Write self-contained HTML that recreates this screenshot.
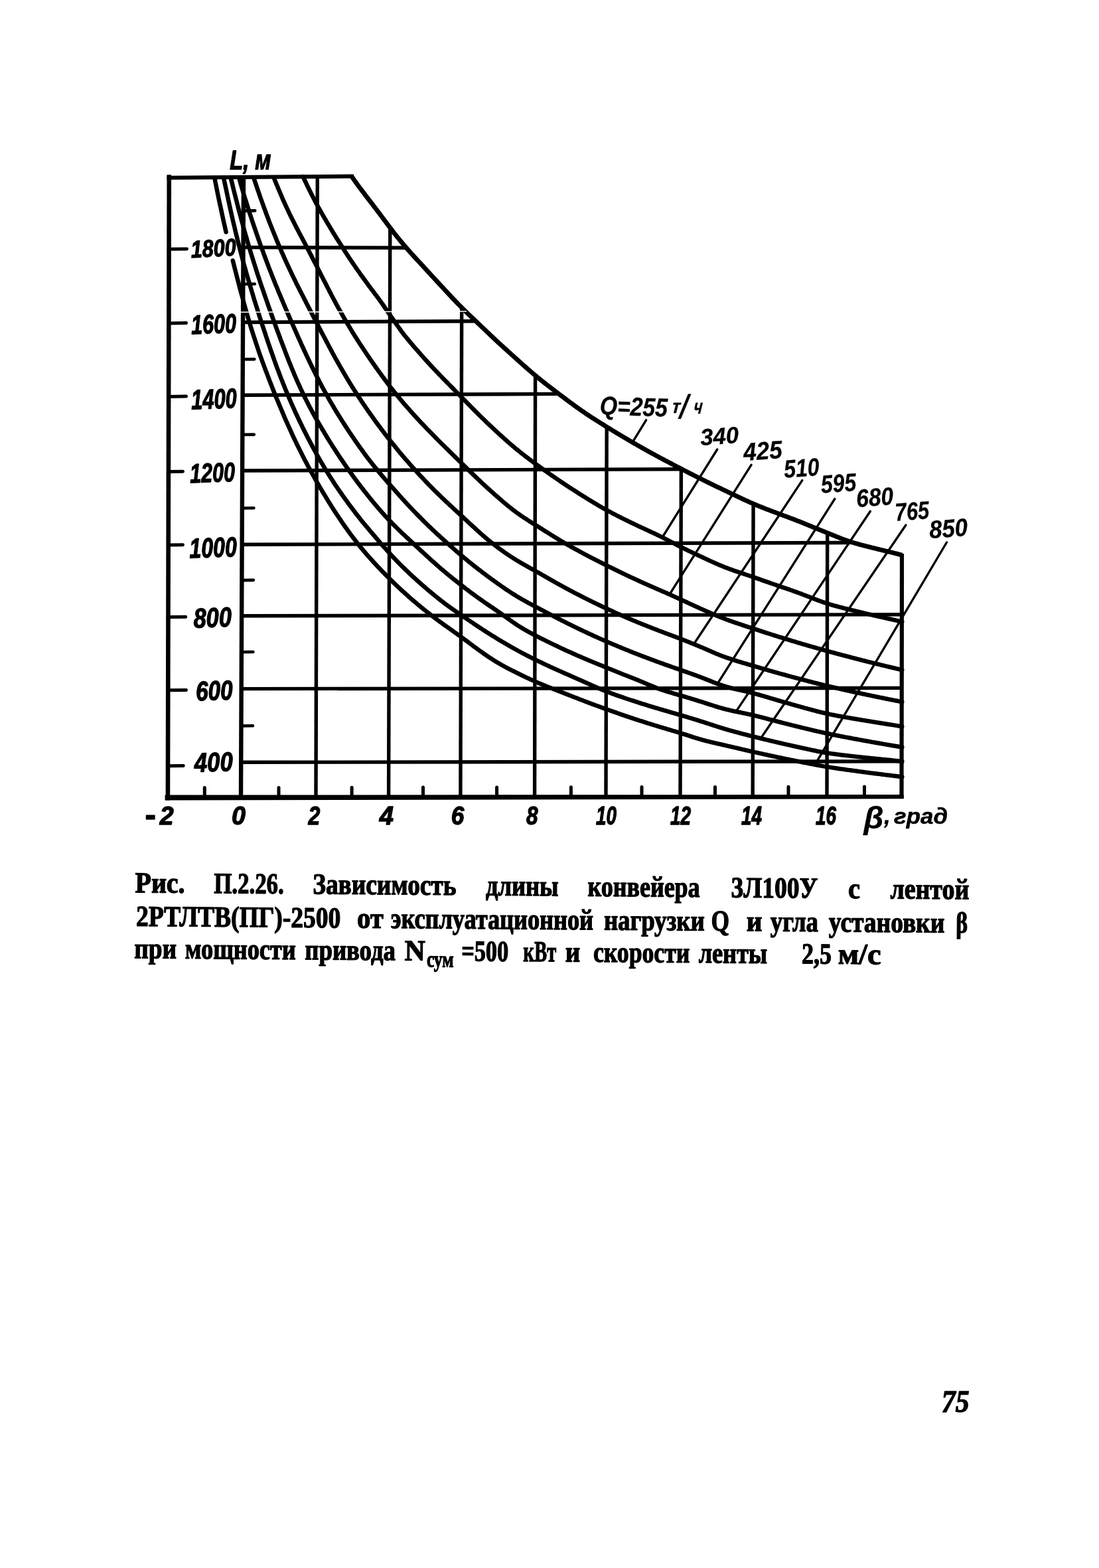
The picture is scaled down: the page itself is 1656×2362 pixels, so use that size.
<!DOCTYPE html>
<html lang="ru"><head><meta charset="utf-8"><title>Рис. П.2.26</title>
<style>
html,body{margin:0;padding:0;background:#fff;}
body{width:1656px;height:2362px;overflow:hidden;}
svg{display:block;}
text{fill:#000;stroke:#000;stroke-width:1.3px;stroke-linejoin:round;}
</style></head><body>
<svg width="1656" height="2362" viewBox="0 0 1656 2362">
<rect width="1656" height="2362" fill="#fff"/>
<g stroke="#000" fill="none">
<line x1="254.8" y1="263.3" x2="252.9" y2="1205.4" stroke-width="6.6" stroke-linecap="butt"/>
<line x1="251.4" y1="267.7" x2="533.0" y2="265.5" stroke-width="6.0" stroke-linecap="butt"/>
<polygon points="248.6,1197.6 1361.8,1197.0 1361.8,1203.2 248.6,1205.6" fill="#000" stroke="none"/>
<line x1="1359.0" y1="834.0" x2="1358.5" y2="1203.0" stroke-width="6.2" stroke-linecap="butt"/>
<line x1="366.6" y1="372.6" x2="613.3" y2="373.3" stroke-width="5.4" stroke-linecap="butt"/>
<line x1="366.1" y1="485.5" x2="717.9" y2="483.7" stroke-width="5.4" stroke-linecap="butt"/>
<line x1="365.6" y1="595.2" x2="843.1" y2="593.4" stroke-width="5.4" stroke-linecap="butt"/>
<line x1="365.1" y1="709.0" x2="1028.4" y2="706.7" stroke-width="5.4" stroke-linecap="butt"/>
<line x1="364.6" y1="820.3" x2="1286.8" y2="817.4" stroke-width="5.4" stroke-linecap="butt"/>
<line x1="364.2" y1="927.8" x2="1358.6" y2="925.7" stroke-width="5.4" stroke-linecap="butt"/>
<line x1="363.7" y1="1037.6" x2="1358.6" y2="1036.4" stroke-width="5.4" stroke-linecap="butt"/>
<line x1="363.2" y1="1148.3" x2="1358.6" y2="1146.8" stroke-width="5.4" stroke-linecap="butt"/>
<line x1="367.0" y1="266.5" x2="363.0" y2="1200.0" stroke-width="6.4" stroke-linecap="butt"/>
<line x1="478.3" y1="266.5" x2="476.0" y2="1200.0" stroke-width="5.4" stroke-linecap="butt"/>
<line x1="587.8" y1="342.1" x2="585.6" y2="1200.0" stroke-width="5.4" stroke-linecap="butt"/>
<line x1="695.7" y1="462.3" x2="693.9" y2="1200.0" stroke-width="5.4" stroke-linecap="butt"/>
<line x1="806.6" y1="564.5" x2="805.6" y2="1200.0" stroke-width="5.4" stroke-linecap="butt"/>
<line x1="914.2" y1="642.0" x2="913.0" y2="1200.0" stroke-width="5.4" stroke-linecap="butt"/>
<line x1="1026.4" y1="705.2" x2="1025.0" y2="1200.0" stroke-width="5.4" stroke-linecap="butt"/>
<line x1="1135.1" y1="757.8" x2="1134.2" y2="1200.0" stroke-width="5.4" stroke-linecap="butt"/>
<line x1="1246.7" y1="801.8" x2="1246.0" y2="1200.0" stroke-width="5.4" stroke-linecap="butt"/>
<line x1="254.4" y1="375.3" x2="281.5" y2="375.0" stroke-width="5.0" stroke-linecap="round"/>
<line x1="254.1" y1="486.9" x2="280.5" y2="486.6" stroke-width="5.0" stroke-linecap="round"/>
<line x1="253.9" y1="597.4" x2="280.5" y2="597.1" stroke-width="5.0" stroke-linecap="round"/>
<line x1="253.6" y1="710.6" x2="275.5" y2="710.3" stroke-width="5.0" stroke-linecap="round"/>
<line x1="253.4" y1="821.0" x2="275.5" y2="820.7" stroke-width="5.0" stroke-linecap="round"/>
<line x1="253.2" y1="929.5" x2="279.8" y2="929.2" stroke-width="5.0" stroke-linecap="round"/>
<line x1="252.9" y1="1039.7" x2="280.5" y2="1039.4" stroke-width="5.0" stroke-linecap="round"/>
<line x1="252.7" y1="1153.8" x2="276.3" y2="1153.5" stroke-width="5.0" stroke-linecap="round"/>
<line x1="366.8" y1="317.6" x2="384.3" y2="317.4" stroke-width="4.6" stroke-linecap="round"/>
<line x1="366.3" y1="428.0" x2="383.8" y2="427.8" stroke-width="4.6" stroke-linecap="round"/>
<line x1="365.8" y1="541.3" x2="383.3" y2="541.1" stroke-width="4.6" stroke-linecap="round"/>
<line x1="365.3" y1="654.8" x2="382.8" y2="654.6" stroke-width="4.6" stroke-linecap="round"/>
<line x1="364.9" y1="765.5" x2="382.4" y2="765.3" stroke-width="4.6" stroke-linecap="round"/>
<line x1="364.4" y1="874.1" x2="381.9" y2="873.9" stroke-width="4.6" stroke-linecap="round"/>
<line x1="363.9" y1="982.2" x2="381.4" y2="982.0" stroke-width="4.6" stroke-linecap="round"/>
<line x1="363.5" y1="1093.5" x2="381.0" y2="1093.3" stroke-width="4.6" stroke-linecap="round"/>
<line x1="308.3" y1="1201.5" x2="308.3" y2="1186.5" stroke-width="5.0" stroke-linecap="round"/>
<line x1="420.0" y1="1201.4" x2="420.0" y2="1186.4" stroke-width="5.0" stroke-linecap="round"/>
<line x1="530.1" y1="1201.2" x2="530.1" y2="1186.2" stroke-width="5.0" stroke-linecap="round"/>
<line x1="637.5" y1="1201.0" x2="637.5" y2="1186.0" stroke-width="5.0" stroke-linecap="round"/>
<line x1="748.6" y1="1200.9" x2="748.6" y2="1185.9" stroke-width="5.0" stroke-linecap="round"/>
<line x1="860.4" y1="1200.7" x2="860.4" y2="1185.7" stroke-width="5.0" stroke-linecap="round"/>
<line x1="967.0" y1="1200.6" x2="967.0" y2="1185.6" stroke-width="5.0" stroke-linecap="round"/>
<line x1="1077.5" y1="1200.4" x2="1077.5" y2="1185.4" stroke-width="5.0" stroke-linecap="round"/>
<line x1="1188.0" y1="1200.3" x2="1188.0" y2="1185.3" stroke-width="5.0" stroke-linecap="round"/>
<line x1="1302.5" y1="1200.1" x2="1302.5" y2="1185.1" stroke-width="5.0" stroke-linecap="round"/>
<path d="M530.3 266.3 L531.9 268.6 L533.4 270.8 L535.0 273.0 L536.6 275.3 L538.2 277.5 L539.8 279.7 L541.4 281.9 L543.1 284.1 L544.7 286.2 L546.3 288.4 L548.0 290.5 L549.6 292.7 L551.2 294.8 L552.8 296.9 L554.4 299.0 L556.0 301.0 L557.6 303.1 L559.2 305.2 L560.8 307.2 L562.4 309.3 L563.9 311.4 L565.5 313.4 L567.1 315.5 L568.6 317.6 L570.2 319.6 L571.8 321.7 L573.3 323.7 L574.8 325.7 L576.3 327.7 L577.8 329.7 L579.3 331.7 L580.8 333.7 L582.3 335.7 L583.7 337.7 L585.2 339.6 L586.7 341.6 L588.2 343.5 L589.6 345.5 L591.1 347.4 L592.6 349.4 L594.1 351.3 L595.6 353.2 L597.1 355.1 L598.6 357.0 L600.2 358.9 L601.7 360.8 L603.2 362.6 L604.8 364.5 L606.3 366.3 L607.9 368.2 L609.4 370.0 L611.0 371.8 L612.5 373.6 L614.1 375.4 L615.7 377.2 L617.2 378.9 L618.8 380.7 L620.4 382.5 L621.9 384.2 L623.5 385.9 L625.1 387.7 L626.7 389.4 L628.3 391.1 L629.9 392.8 L631.4 394.5 L633.0 396.2 L634.6 397.9 L636.2 399.6 L637.7 401.3 L639.3 403.0 L640.8 404.7 L642.4 406.4 L643.9 408.0 L645.4 409.7 L647.0 411.4 L648.5 413.0 L650.0 414.7 L651.5 416.4 L653.1 418.0 L654.6 419.6 L656.1 421.3 L657.6 422.9 L659.1 424.6 L660.6 426.2 L662.1 427.8 L663.6 429.5 L665.2 431.1 L666.7 432.7 L668.2 434.3 L669.7 436.0 L671.2 437.6 L672.7 439.2 L674.2 440.8 L675.7 442.5 L677.2 444.1 L678.7 445.7 L680.2 447.3 L681.7 448.9 L683.2 450.5 L684.8 452.1 L686.3 453.7 L687.8 455.2 L689.3 456.8 L690.8 458.4 L692.3 459.9 L693.9 461.5 L695.4 463.0 L696.9 464.5 L698.4 466.0 L700.0 467.5 L701.5 469.0 L703.0 470.5 L704.5 471.9 L706.0 473.4 L707.5 474.8 L709.1 476.3 L710.6 477.7 L712.1 479.2 L713.6 480.6 L715.1 482.0 L716.6 483.4 L718.0 484.8 L719.5 486.3 L721.0 487.7 L722.5 489.1 L724.0 490.5 L725.5 491.9 L726.9 493.3 L728.4 494.7 L729.9 496.1 L731.4 497.5 L732.8 498.9 L734.3 500.3 L735.8 501.7 L737.3 503.1 L738.7 504.5 L740.2 505.9 L741.7 507.3 L743.1 508.7 L744.6 510.1 L746.1 511.5 L747.6 512.9 L749.1 514.3 L750.5 515.6 L752.0 517.0 L753.5 518.4 L755.0 519.7 L756.5 521.1 L758.0 522.4 L759.5 523.8 L761.0 525.1 L762.5 526.5 L763.9 527.8 L765.4 529.2 L766.9 530.5 L768.4 531.8 L769.9 533.2 L771.3 534.5 L772.8 535.8 L774.3 537.2 L775.8 538.5 L777.3 539.8 L778.7 541.1 L780.2 542.4 L781.7 543.8 L783.1 545.1 L784.6 546.4 L786.1 547.7 L787.5 549.0 L789.0 550.3 L790.5 551.6 L791.9 552.9 L793.4 554.2 L794.8 555.5 L796.3 556.8 L797.8 558.0 L799.2 559.3 L800.7 560.6 L802.2 561.8 L803.6 563.0 L805.1 564.3 L806.5 565.5 L808.0 566.7 L809.4 567.9 L810.9 569.1 L812.4 570.3 L813.8 571.5 L815.3 572.7 L816.7 573.9 L818.2 575.0 L819.7 576.2 L821.1 577.3 L822.6 578.5 L824.0 579.6 L825.5 580.8 L827.0 581.9 L828.4 583.0 L829.9 584.1 L831.4 585.3 L832.8 586.4 L834.3 587.5 L835.8 588.6 L837.3 589.8 L838.7 590.9 L840.2 592.0 L841.7 593.1 L843.2 594.3 L844.7 595.4 L846.2 596.5 L847.7 597.6 L849.2 598.7 L850.7 599.9 L852.2 601.0 L853.7 602.1 L855.2 603.2 L856.7 604.4 L858.2 605.5 L859.7 606.6 L861.3 607.7 L862.8 608.8 L864.3 610.0 L865.8 611.1 L867.3 612.2 L868.9 613.3 L870.4 614.3 L871.9 615.4 L873.4 616.5 L874.9 617.5 L876.4 618.6 L878.0 619.7 L879.5 620.7 L881.0 621.7 L882.5 622.8 L884.0 623.8 L885.5 624.8 L887.1 625.8 L888.6 626.8 L890.1 627.8 L891.6 628.8 L893.1 629.8 L894.6 630.7 L896.1 631.7 L897.7 632.7 L899.2 633.6 L900.7 634.6 L902.2 635.5 L903.7 636.5 L905.2 637.4 L906.7 638.4 L908.2 639.3 L909.7 640.2 L911.2 641.2 L912.7 642.1 L914.2 643.0 L915.7 644.0 L917.2 644.9 L918.7 645.8 L920.2 646.7 L921.7 647.6 L923.2 648.6 L924.7 649.5 L926.2 650.4 L927.7 651.3 L929.2 652.2 L930.7 653.1 L932.2 654.0 L933.7 654.9 L935.2 655.8 L936.7 656.7 L938.2 657.6 L939.7 658.5 L941.2 659.4 L942.7 660.2 L944.2 661.1 L945.7 662.0 L947.1 662.9 L948.6 663.8 L950.1 664.6 L951.6 665.5 L953.1 666.4 L954.6 667.2 L956.1 668.1 L957.6 668.9 L959.1 669.8 L960.6 670.7 L962.1 671.5 L963.6 672.4 L965.1 673.2 L966.6 674.1 L968.1 674.9 L969.5 675.7 L971.0 676.6 L972.5 677.4 L974.0 678.3 L975.5 679.1 L977.0 679.9 L978.5 680.7 L980.0 681.6 L981.5 682.4 L983.0 683.2 L984.5 684.0 L986.0 684.8 L987.5 685.7 L989.0 686.5 L990.5 687.3 L991.9 688.1 L993.4 688.9 L994.9 689.7 L996.4 690.5 L997.9 691.3 L999.4 692.1 L1000.9 692.9 L1002.4 693.7 L1003.9 694.5 L1005.4 695.2 L1006.9 696.0 L1008.4 696.8 L1009.9 697.6 L1011.4 698.4 L1012.9 699.2 L1014.4 700.0 L1015.8 700.7 L1017.3 701.5 L1018.8 702.3 L1020.3 703.1 L1021.8 703.8 L1023.3 704.6 L1024.8 705.4 L1026.3 706.2 L1027.8 706.9 L1029.3 707.7 L1030.8 708.5 L1032.3 709.3 L1033.8 710.0 L1035.3 710.8 L1036.8 711.6 L1038.3 712.4 L1039.8 713.1 L1041.3 713.9 L1042.8 714.7 L1044.4 715.4 L1045.9 716.2 L1047.4 717.0 L1048.9 717.7 L1050.4 718.5 L1051.9 719.2 L1053.4 720.0 L1054.9 720.7 L1056.4 721.5 L1057.9 722.2 L1059.4 723.0 L1060.9 723.7 L1062.4 724.5 L1063.9 725.2 L1065.4 726.0 L1066.9 726.7 L1068.4 727.4 L1069.9 728.2 L1071.4 728.9 L1072.9 729.6 L1074.4 730.4 L1075.9 731.1 L1077.4 731.8 L1078.9 732.5 L1080.4 733.3 L1081.9 734.0 L1083.5 734.7 L1085.0 735.4 L1086.5 736.1 L1088.0 736.9 L1089.5 737.6 L1091.0 738.3 L1092.5 739.0 L1094.0 739.7 L1095.5 740.4 L1097.0 741.1 L1098.5 741.9 L1100.0 742.6 L1101.4 743.3 L1102.9 744.0 L1104.4 744.7 L1105.9 745.4 L1107.4 746.1 L1108.9 746.8 L1110.4 747.5 L1111.9 748.3 L1113.4 749.0 L1114.9 749.7 L1116.4 750.4 L1117.9 751.1 L1119.3 751.8 L1120.8 752.5 L1122.3 753.2 L1123.8 753.9 L1125.3 754.5 L1126.8 755.2 L1128.3 755.9 L1129.8 756.6 L1131.3 757.2 L1132.8 757.9 L1134.3 758.5 L1135.8 759.2 L1137.4 759.8 L1138.9 760.5 L1140.4 761.1 L1141.9 761.7 L1143.4 762.4 L1144.9 763.0 L1146.5 763.6 L1148.0 764.2 L1149.5 764.8 L1151.0 765.4 L1152.6 766.0 L1154.1 766.6 L1155.6 767.2 L1157.2 767.8 L1158.7 768.3 L1160.2 768.9 L1161.7 769.5 L1163.3 770.1 L1164.8 770.7 L1166.3 771.2 L1167.9 771.8 L1169.4 772.4 L1170.9 773.0 L1172.5 773.5 L1174.0 774.1 L1175.5 774.7 L1177.0 775.2 L1178.6 775.8 L1180.1 776.4 L1181.6 776.9 L1183.2 777.5 L1184.7 778.1 L1186.2 778.6 L1187.7 779.2 L1189.3 779.8 L1190.8 780.4 L1192.3 780.9 L1193.8 781.5 L1195.4 782.1 L1196.9 782.7 L1198.4 783.3 L1199.9 783.9 L1201.4 784.5 L1202.9 785.1 L1204.4 785.6 L1206.0 786.2 L1207.5 786.8 L1209.0 787.4 L1210.5 788.0 L1212.0 788.7 L1213.5 789.3 L1215.0 789.9 L1216.5 790.5 L1218.0 791.1 L1219.5 791.7 L1221.0 792.3 L1222.5 792.9 L1224.0 793.6 L1225.5 794.2 L1227.0 794.8 L1228.5 795.4 L1230.0 796.0 L1231.5 796.6 L1233.0 797.2 L1234.5 797.8 L1235.9 798.4 L1237.4 799.0 L1238.9 799.6 L1240.4 800.2 L1241.9 800.8 L1243.3 801.4 L1244.8 802.0 L1246.3 802.6 L1247.7 803.2 L1249.2 803.8 L1250.7 804.4 L1252.1 805.0 L1253.6 805.5 L1255.0 806.1 L1256.5 806.7 L1257.9 807.3 L1259.4 807.9 L1260.8 808.5 L1262.3 809.1 L1263.7 809.6 L1265.2 810.2 L1266.6 810.8 L1268.1 811.3 L1269.5 811.9 L1271.0 812.4 L1272.5 813.0 L1273.9 813.5 L1275.4 814.0 L1276.9 814.5 L1278.4 815.0 L1279.9 815.5 L1281.4 816.0 L1282.9 816.5 L1284.4 817.0 L1285.9 817.5 L1287.5 817.9 L1289.0 818.4 L1290.5 818.8 L1292.1 819.3 L1293.6 819.7 L1295.1 820.1 L1296.7 820.6 L1298.3 821.0 L1299.8 821.4 L1301.4 821.8 L1303.0 822.2 L1304.5 822.6 L1306.1 823.0 L1307.7 823.4 L1309.2 823.8 L1310.8 824.2 L1312.4 824.6 L1313.9 825.0 L1315.5 825.4 L1317.1 825.7 L1318.6 826.1 L1320.2 826.5 L1321.8 826.9 L1323.3 827.3 L1324.9 827.7 L1326.5 828.1 L1328.0 828.4 L1329.6 828.8 L1331.2 829.2 L1332.7 829.6 L1334.3 830.0 L1335.9 830.3 L1337.5 830.7 L1339.0 831.1 L1340.6 831.5 L1342.2 831.9 L1343.7 832.2 L1345.3 832.6 L1346.8 833.0 L1348.4 833.4 L1349.9 833.8 L1351.5 834.2 L1353.0 834.6 L1354.6 835.0 L1356.1 835.4 L1357.7 835.8 L1359.2 836.2" stroke-width="6.9" stroke-linecap="butt" stroke-linejoin="round" fill="none"/>
<path d="M456.5 266.1 L458.1 269.3 L459.6 272.5 L461.1 275.6 L462.6 278.8 L464.1 281.9 L465.6 285.0 L467.1 288.1 L468.7 291.2 L470.2 294.3 L471.8 297.3 L473.4 300.3 L475.0 303.4 L476.6 306.4 L478.2 309.3 L479.8 312.3 L481.5 315.2 L483.1 318.1 L484.7 321.0 L486.3 323.8 L487.9 326.6 L489.5 329.3 L491.1 332.0 L492.7 334.8 L494.3 337.5 L495.9 340.2 L497.5 342.9 L499.1 345.5 L500.7 348.2 L502.4 350.9 L504.0 353.5 L505.6 356.1 L507.2 358.7 L508.8 361.3 L510.4 363.8 L512.0 366.3 L513.6 368.8 L515.2 371.3 L516.8 373.8 L518.4 376.3 L519.9 378.7 L521.5 381.1 L523.0 383.5 L524.6 385.9 L526.1 388.3 L527.7 390.6 L529.3 393.0 L530.9 395.3 L532.5 397.7 L534.1 400.0 L535.7 402.3 L537.3 404.7 L538.9 407.0 L540.5 409.2 L542.1 411.5 L543.7 413.8 L545.3 416.0 L547.0 418.3 L548.6 420.5 L550.2 422.7 L551.8 424.9 L553.4 427.1 L555.0 429.3 L556.6 431.5 L558.2 433.6 L559.8 435.8 L561.4 437.9 L563.0 440.0 L564.6 442.2 L566.2 444.3 L567.9 446.4 L569.4 448.5 L571.0 450.6 L572.5 452.7 L574.0 454.8 L575.5 456.9 L577.0 459.0 L578.4 461.1 L579.9 463.3 L581.3 465.4 L582.8 467.4 L584.2 469.5 L585.6 471.6 L587.1 473.7 L588.5 475.7 L589.9 477.8 L591.4 479.8 L592.8 481.9 L594.2 483.9 L595.6 485.9 L597.0 488.0 L598.5 490.0 L599.9 492.0 L601.3 494.0 L602.7 495.9 L604.1 497.9 L605.5 499.9 L607.0 501.8 L608.4 503.7 L609.9 505.6 L611.5 507.5 L613.0 509.4 L614.5 511.2 L616.1 513.0 L617.6 514.9 L619.1 516.7 L620.7 518.5 L622.2 520.3 L623.7 522.1 L625.3 523.9 L626.8 525.6 L628.4 527.4 L629.9 529.2 L631.4 530.9 L633.0 532.7 L634.5 534.4 L636.0 536.1 L637.6 537.9 L639.1 539.6 L640.6 541.3 L642.2 543.0 L643.7 544.7 L645.2 546.3 L646.8 548.0 L648.3 549.7 L649.8 551.3 L651.4 553.0 L652.9 554.6 L654.5 556.3 L656.0 557.9 L657.5 559.5 L659.1 561.1 L660.6 562.8 L662.1 564.4 L663.7 566.0 L665.2 567.5 L666.7 569.1 L668.3 570.7 L669.8 572.3 L671.3 573.8 L672.9 575.4 L674.4 576.9 L675.9 578.5 L677.5 580.0 L679.0 581.6 L680.5 583.1 L682.0 584.6 L683.5 586.1 L685.0 587.7 L686.5 589.2 L688.0 590.7 L689.5 592.2 L691.0 593.7 L692.5 595.2 L694.0 596.7 L695.5 598.2 L696.9 599.7 L698.4 601.2 L699.9 602.7 L701.3 604.2 L702.8 605.7 L704.2 607.2 L705.7 608.7 L707.1 610.1 L708.6 611.6 L710.0 613.1 L711.5 614.6 L712.9 616.0 L714.3 617.5 L715.8 618.9 L717.2 620.4 L718.7 621.8 L720.1 623.2 L721.5 624.7 L723.0 626.1 L724.4 627.5 L725.8 628.9 L727.3 630.3 L728.7 631.7 L730.2 633.1 L731.6 634.5 L733.0 635.9 L734.5 637.3 L735.9 638.6 L737.4 640.0 L738.8 641.4 L740.2 642.7 L741.7 644.1 L743.1 645.4 L744.5 646.8 L746.0 648.1 L747.4 649.5 L748.9 650.8 L750.3 652.1 L751.7 653.4 L753.2 654.7 L754.6 656.0 L756.1 657.3 L757.5 658.6 L758.9 659.9 L760.4 661.2 L761.8 662.5 L763.3 663.8 L764.7 665.1 L766.2 666.3 L767.6 667.6 L769.0 668.8 L770.5 670.1 L771.9 671.3 L773.4 672.6 L774.9 673.8 L776.3 675.0 L777.8 676.2 L779.2 677.4 L780.7 678.6 L782.2 679.8 L783.7 681.0 L785.1 682.2 L786.6 683.3 L788.1 684.5 L789.6 685.6 L791.0 686.8 L792.5 687.9 L794.0 689.1 L795.5 690.2 L797.0 691.3 L798.5 692.4 L800.0 693.6 L801.5 694.7 L803.0 695.8 L804.5 696.9 L806.0 698.0 L807.5 699.1 L809.0 700.2 L810.5 701.3 L812.0 702.3 L813.5 703.4 L815.0 704.5 L816.5 705.6 L818.0 706.7 L819.5 707.7 L821.0 708.8 L822.5 709.9 L824.0 710.9 L825.5 712.0 L827.0 713.1 L828.5 714.1 L830.0 715.2 L831.5 716.2 L833.0 717.3 L834.5 718.3 L836.0 719.3 L837.5 720.4 L839.0 721.4 L840.5 722.4 L842.0 723.4 L843.5 724.5 L845.0 725.5 L846.5 726.5 L848.0 727.5 L849.5 728.5 L851.0 729.5 L852.5 730.5 L854.0 731.5 L855.5 732.5 L857.0 733.5 L858.5 734.5 L860.0 735.4 L861.6 736.4 L863.1 737.4 L864.6 738.4 L866.1 739.3 L867.6 740.3 L869.1 741.3 L870.6 742.2 L872.1 743.2 L873.6 744.1 L875.1 745.1 L876.6 746.0 L878.1 747.0 L879.6 747.9 L881.1 748.8 L882.6 749.8 L884.1 750.7 L885.6 751.6 L887.1 752.6 L888.6 753.5 L890.1 754.4 L891.6 755.3 L893.1 756.2 L894.6 757.1 L896.1 758.0 L897.6 758.9 L899.1 759.8 L900.6 760.7 L902.1 761.6 L903.6 762.5 L905.1 763.4 L906.6 764.2 L908.1 765.1 L909.6 765.9 L911.1 766.8 L912.6 767.6 L914.1 768.5 L915.7 769.3 L917.2 770.1 L918.7 770.9 L920.2 771.7 L921.7 772.5 L923.2 773.3 L924.7 774.1 L926.2 774.9 L927.8 775.7 L929.3 776.5 L930.8 777.3 L932.3 778.0 L933.8 778.8 L935.3 779.5 L936.9 780.3 L938.4 781.1 L939.9 781.8 L941.4 782.6 L942.9 783.3 L944.4 784.0 L946.0 784.8 L947.5 785.5 L949.0 786.3 L950.5 787.0 L952.0 787.7 L953.5 788.4 L955.1 789.2 L956.6 789.9 L958.1 790.6 L959.6 791.3 L961.1 792.1 L962.6 792.8 L964.2 793.5 L965.7 794.2 L967.2 794.9 L968.7 795.6 L970.2 796.3 L971.7 797.0 L973.3 797.7 L974.8 798.4 L976.3 799.1 L977.8 799.8 L979.3 800.5 L980.8 801.2 L982.3 801.9 L983.9 802.6 L985.4 803.3 L986.9 804.0 L988.4 804.7 L989.9 805.5 L991.4 806.2 L992.9 806.9 L994.4 807.7 L995.9 808.4 L997.4 809.2 L998.9 809.9 L1000.4 810.7 L1001.9 811.4 L1003.4 812.2 L1004.8 813.0 L1006.3 813.7 L1007.8 814.5 L1009.3 815.3 L1010.8 816.1 L1012.3 816.9 L1013.8 817.6 L1015.2 818.4 L1016.7 819.2 L1018.2 820.0 L1019.7 820.8 L1021.2 821.5 L1022.7 822.3 L1024.2 823.1 L1025.6 823.8 L1027.1 824.6 L1028.6 825.3 L1030.1 826.0 L1031.6 826.8 L1033.1 827.5 L1034.6 828.2 L1036.1 829.0 L1037.6 829.7 L1039.1 830.4 L1040.6 831.1 L1042.1 831.8 L1043.5 832.5 L1045.0 833.2 L1046.5 833.9 L1048.0 834.6 L1049.5 835.3 L1051.0 836.0 L1052.5 836.7 L1054.0 837.4 L1055.5 838.1 L1057.0 838.8 L1058.5 839.5 L1060.0 840.2 L1061.5 840.9 L1063.0 841.6 L1064.5 842.3 L1066.0 843.0 L1067.5 843.7 L1069.0 844.4 L1070.5 845.1 L1072.0 845.8 L1073.5 846.4 L1075.0 847.1 L1076.5 847.8 L1078.0 848.5 L1079.5 849.1 L1081.0 849.8 L1082.5 850.4 L1084.0 851.1 L1085.6 851.7 L1087.1 852.3 L1088.6 852.9 L1090.1 853.6 L1091.6 854.2 L1093.1 854.8 L1094.6 855.3 L1096.2 855.9 L1097.7 856.5 L1099.2 857.1 L1100.7 857.6 L1102.3 858.2 L1103.8 858.7 L1105.3 859.3 L1106.8 859.8 L1108.4 860.3 L1109.9 860.8 L1111.4 861.4 L1113.0 861.9 L1114.5 862.4 L1116.0 862.9 L1117.6 863.4 L1119.1 863.9 L1120.6 864.4 L1122.1 864.9 L1123.7 865.5 L1125.2 866.0 L1126.7 866.5 L1128.2 867.0 L1129.7 867.5 L1131.2 868.0 L1132.8 868.5 L1134.3 869.1 L1135.8 869.6 L1137.3 870.1 L1138.8 870.6 L1140.3 871.1 L1141.8 871.7 L1143.3 872.2 L1144.8 872.7 L1146.3 873.2 L1147.8 873.8 L1149.3 874.3 L1150.8 874.8 L1152.3 875.3 L1153.8 875.9 L1155.3 876.4 L1156.8 876.9 L1158.3 877.4 L1159.7 877.9 L1161.2 878.5 L1162.7 879.0 L1164.2 879.5 L1165.7 880.0 L1167.2 880.5 L1168.7 881.0 L1170.2 881.6 L1171.7 882.1 L1173.2 882.6 L1174.7 883.1 L1176.1 883.6 L1177.6 884.1 L1179.1 884.6 L1180.6 885.1 L1182.1 885.6 L1183.6 886.1 L1185.1 886.6 L1186.6 887.1 L1188.1 887.6 L1189.6 888.1 L1191.1 888.7 L1192.5 889.2 L1194.0 889.7 L1195.5 890.3 L1197.0 890.8 L1198.5 891.3 L1200.0 891.9 L1201.5 892.4 L1203.0 893.0 L1204.5 893.5 L1206.0 894.1 L1207.5 894.6 L1208.9 895.2 L1210.4 895.8 L1211.9 896.3 L1213.4 896.9 L1214.9 897.5 L1216.4 898.1 L1217.9 898.6 L1219.4 899.2 L1220.9 899.8 L1222.4 900.4 L1223.8 901.0 L1225.3 901.6 L1226.8 902.2 L1228.3 902.7 L1229.8 903.3 L1231.3 903.9 L1232.8 904.4 L1234.3 905.0 L1235.8 905.5 L1237.3 906.0 L1238.8 906.6 L1240.3 907.1 L1241.8 907.6 L1243.3 908.1 L1244.8 908.6 L1246.3 909.1 L1247.8 909.6 L1249.3 910.0 L1250.9 910.5 L1252.4 911.0 L1253.9 911.4 L1255.4 911.9 L1256.9 912.3 L1258.5 912.7 L1260.0 913.1 L1261.5 913.5 L1263.0 913.9 L1264.6 914.3 L1266.1 914.7 L1267.6 915.1 L1269.1 915.5 L1270.7 915.9 L1272.2 916.3 L1273.7 916.7 L1275.3 917.0 L1276.8 917.4 L1278.3 917.8 L1279.9 918.2 L1281.4 918.5 L1282.9 918.9 L1284.4 919.3 L1286.0 919.7 L1287.5 920.0 L1289.0 920.4 L1290.6 920.8 L1292.1 921.2 L1293.6 921.5 L1295.2 921.9 L1296.7 922.3 L1298.2 922.6 L1299.7 923.0 L1301.3 923.4 L1302.8 923.7 L1304.3 924.1 L1305.9 924.4 L1307.4 924.8 L1308.9 925.2 L1310.5 925.5 L1312.0 925.9 L1313.5 926.2 L1315.0 926.6 L1316.6 927.0 L1318.1 927.3 L1319.6 927.7 L1321.2 928.0 L1322.7 928.4 L1324.2 928.7 L1325.7 929.1 L1327.3 929.4 L1328.8 929.8 L1330.3 930.1 L1331.9 930.4 L1333.4 930.8 L1334.9 931.1 L1336.5 931.5 L1338.0 931.8 L1339.5 932.2 L1341.0 932.5 L1342.6 932.8 L1344.1 933.2 L1345.6 933.5 L1347.2 933.9 L1348.7 934.2 L1350.2 934.6 L1351.7 934.9 L1353.2 935.3 L1354.8 935.6 L1356.3 936.0 L1357.8 936.3 L1359.3 936.7" stroke-width="6.5" stroke-linecap="round" stroke-linejoin="round" fill="none"/>
<path d="M413.2 269.0 L414.7 272.9 L416.3 276.7 L417.9 280.6 L419.4 284.3 L421.0 288.1 L422.6 291.8 L424.2 295.4 L425.7 299.1 L427.3 302.6 L428.9 306.2 L430.6 309.8 L432.2 313.3 L433.9 316.8 L435.5 320.3 L437.2 323.8 L438.9 327.2 L440.6 330.6 L442.3 334.0 L444.0 337.4 L445.7 340.7 L447.4 344.0 L449.1 347.2 L450.7 350.4 L452.4 353.6 L454.1 356.7 L455.7 359.8 L457.4 362.9 L459.0 366.0 L460.6 369.1 L462.2 372.2 L463.9 375.2 L465.5 378.3 L467.1 381.4 L468.7 384.4 L470.2 387.5 L471.8 390.5 L473.3 393.5 L474.9 396.4 L476.4 399.3 L477.9 402.3 L479.3 405.1 L480.8 408.0 L482.2 410.8 L483.7 413.7 L485.1 416.5 L486.6 419.4 L488.0 422.2 L489.5 425.0 L490.9 427.8 L492.4 430.7 L493.8 433.5 L495.3 436.3 L496.7 439.1 L498.2 441.9 L499.6 444.7 L501.1 447.5 L502.5 450.2 L504.0 453.0 L505.5 455.7 L506.9 458.4 L508.4 461.1 L509.8 463.7 L511.3 466.4 L512.8 469.0 L514.3 471.6 L515.7 474.2 L517.2 476.8 L518.7 479.4 L520.1 481.9 L521.6 484.4 L523.1 487.0 L524.6 489.4 L526.1 491.9 L527.6 494.4 L529.0 496.8 L530.5 499.3 L532.0 501.7 L533.5 504.1 L535.0 506.5 L536.5 508.8 L538.0 511.2 L539.5 513.5 L541.0 515.9 L542.5 518.2 L544.0 520.5 L545.5 522.7 L547.0 525.0 L548.5 527.3 L550.0 529.5 L551.5 531.8 L553.0 534.0 L554.5 536.2 L556.0 538.4 L557.5 540.6 L559.0 542.8 L560.5 544.9 L562.0 547.1 L563.5 549.2 L565.0 551.4 L566.5 553.5 L568.0 555.6 L569.5 557.7 L571.0 559.8 L572.5 561.8 L574.0 563.9 L575.5 566.0 L577.0 568.0 L578.5 570.0 L580.0 572.0 L581.5 574.1 L583.0 576.0 L584.5 578.0 L586.0 580.0 L587.5 582.0 L589.0 583.9 L590.5 585.8 L592.1 587.8 L593.6 589.7 L595.1 591.6 L596.6 593.5 L598.1 595.3 L599.7 597.2 L601.2 599.0 L602.7 600.9 L604.2 602.7 L605.8 604.5 L607.3 606.3 L608.8 608.1 L610.4 609.9 L611.9 611.7 L613.4 613.4 L615.0 615.2 L616.5 616.9 L618.1 618.7 L619.6 620.4 L621.1 622.1 L622.7 623.8 L624.2 625.5 L625.8 627.2 L627.3 628.8 L628.8 630.5 L630.4 632.2 L631.9 633.8 L633.4 635.5 L635.0 637.1 L636.5 638.7 L638.0 640.3 L639.6 641.9 L641.1 643.5 L642.6 645.1 L644.1 646.7 L645.7 648.3 L647.2 649.8 L648.7 651.4 L650.3 652.9 L651.8 654.5 L653.3 656.0 L654.8 657.6 L656.3 659.1 L657.8 660.6 L659.4 662.2 L660.9 663.7 L662.4 665.2 L663.9 666.7 L665.4 668.2 L666.9 669.7 L668.4 671.2 L670.0 672.7 L671.5 674.2 L673.0 675.7 L674.5 677.1 L676.0 678.6 L677.5 680.1 L679.0 681.6 L680.5 683.0 L682.0 684.5 L683.5 686.0 L684.9 687.4 L686.4 688.9 L687.9 690.3 L689.4 691.8 L690.8 693.2 L692.3 694.7 L693.8 696.1 L695.2 697.6 L696.7 699.0 L698.2 700.4 L699.6 701.8 L701.1 703.2 L702.5 704.7 L704.0 706.1 L705.4 707.5 L706.9 708.9 L708.3 710.3 L709.7 711.7 L711.2 713.1 L712.6 714.5 L714.0 715.8 L715.5 717.2 L716.9 718.6 L718.3 720.0 L719.8 721.3 L721.2 722.7 L722.6 724.0 L724.0 725.4 L725.5 726.7 L726.9 728.1 L728.3 729.4 L729.8 730.7 L731.2 732.0 L732.6 733.4 L734.1 734.7 L735.5 736.0 L736.9 737.3 L738.4 738.6 L739.8 739.9 L741.2 741.1 L742.7 742.4 L744.1 743.7 L745.5 745.0 L747.0 746.2 L748.4 747.5 L749.9 748.7 L751.3 750.0 L752.7 751.2 L754.2 752.5 L755.6 753.7 L757.0 754.9 L758.5 756.2 L759.9 757.4 L761.3 758.6 L762.8 759.8 L764.2 761.0 L765.7 762.2 L767.1 763.4 L768.6 764.5 L770.0 765.7 L771.5 766.8 L772.9 768.0 L774.4 769.1 L775.9 770.2 L777.3 771.3 L778.8 772.4 L780.3 773.4 L781.8 774.5 L783.3 775.5 L784.8 776.6 L786.3 777.6 L787.8 778.6 L789.3 779.6 L790.8 780.6 L792.3 781.6 L793.9 782.6 L795.4 783.6 L796.9 784.6 L798.4 785.6 L800.0 786.5 L801.5 787.5 L803.1 788.5 L804.6 789.4 L806.2 790.4 L807.7 791.4 L809.3 792.3 L810.8 793.3 L812.4 794.3 L813.9 795.3 L815.5 796.2 L817.0 797.2 L818.6 798.2 L820.1 799.2 L821.7 800.2 L823.2 801.1 L824.8 802.1 L826.3 803.1 L827.9 804.1 L829.5 805.1 L831.0 806.1 L832.6 807.0 L834.1 808.0 L835.7 808.9 L837.2 809.9 L838.8 810.8 L840.3 811.8 L841.9 812.7 L843.4 813.6 L844.9 814.6 L846.5 815.5 L848.0 816.4 L849.5 817.3 L851.0 818.2 L852.6 819.1 L854.1 819.9 L855.6 820.8 L857.1 821.7 L858.6 822.5 L860.1 823.4 L861.7 824.3 L863.2 825.1 L864.7 825.9 L866.2 826.8 L867.7 827.6 L869.2 828.4 L870.7 829.2 L872.2 830.0 L873.7 830.9 L875.2 831.7 L876.7 832.5 L878.2 833.3 L879.7 834.1 L881.2 834.9 L882.6 835.7 L884.1 836.5 L885.6 837.2 L887.1 838.0 L888.6 838.8 L890.1 839.6 L891.6 840.4 L893.1 841.1 L894.6 841.9 L896.1 842.7 L897.6 843.5 L899.1 844.2 L900.6 845.0 L902.1 845.7 L903.6 846.5 L905.1 847.3 L906.6 848.0 L908.1 848.8 L909.6 849.5 L911.1 850.3 L912.6 851.1 L914.2 851.8 L915.7 852.6 L917.2 853.3 L918.7 854.1 L920.2 854.8 L921.7 855.5 L923.2 856.3 L924.7 857.0 L926.2 857.8 L927.7 858.5 L929.3 859.3 L930.8 860.0 L932.3 860.7 L933.8 861.5 L935.3 862.2 L936.8 862.9 L938.3 863.7 L939.9 864.4 L941.4 865.1 L942.9 865.8 L944.4 866.6 L945.9 867.3 L947.4 868.0 L948.9 868.7 L950.5 869.4 L952.0 870.1 L953.5 870.8 L955.0 871.5 L956.5 872.2 L958.0 872.9 L959.5 873.6 L961.1 874.3 L962.6 875.0 L964.1 875.7 L965.6 876.4 L967.1 877.1 L968.6 877.7 L970.1 878.4 L971.7 879.1 L973.2 879.8 L974.7 880.4 L976.2 881.1 L977.7 881.8 L979.2 882.5 L980.8 883.1 L982.3 883.8 L983.8 884.4 L985.3 885.1 L986.8 885.8 L988.3 886.4 L989.8 887.1 L991.4 887.7 L992.9 888.4 L994.4 889.1 L995.9 889.7 L997.5 890.4 L999.0 891.1 L1000.6 891.7 L1002.1 892.4 L1003.6 893.1 L1005.2 893.8 L1006.7 894.5 L1008.3 895.2 L1009.8 895.8 L1011.4 896.5 L1012.9 897.2 L1014.5 897.9 L1016.0 898.6 L1017.5 899.3 L1019.1 900.0 L1020.6 900.7 L1022.1 901.4 L1023.7 902.1 L1025.2 902.8 L1026.7 903.5 L1028.2 904.2 L1029.8 904.9 L1031.3 905.6 L1032.8 906.3 L1034.3 907.0 L1035.8 907.7 L1037.3 908.4 L1038.7 909.1 L1040.2 909.8 L1041.7 910.4 L1043.2 911.1 L1044.6 911.8 L1046.1 912.5 L1047.6 913.1 L1049.0 913.8 L1050.5 914.5 L1051.9 915.1 L1053.4 915.8 L1054.9 916.5 L1056.3 917.1 L1057.8 917.8 L1059.3 918.4 L1060.7 919.1 L1062.2 919.7 L1063.7 920.4 L1065.1 921.0 L1066.6 921.7 L1068.0 922.3 L1069.5 923.0 L1071.0 923.6 L1072.4 924.2 L1073.9 924.9 L1075.4 925.5 L1076.8 926.1 L1078.3 926.7 L1079.8 927.4 L1081.2 928.0 L1082.7 928.6 L1084.2 929.2 L1085.6 929.7 L1087.1 930.3 L1088.6 930.9 L1090.1 931.5 L1091.5 932.0 L1093.0 932.6 L1094.5 933.2 L1095.9 933.7 L1097.4 934.2 L1098.9 934.8 L1100.4 935.3 L1101.8 935.8 L1103.3 936.4 L1104.8 936.9 L1106.3 937.4 L1107.8 937.9 L1109.2 938.4 L1110.7 938.9 L1112.2 939.4 L1113.7 939.9 L1115.2 940.3 L1116.6 940.8 L1118.1 941.3 L1119.6 941.8 L1121.1 942.3 L1122.6 942.8 L1124.1 943.3 L1125.5 943.8 L1127.0 944.3 L1128.5 944.8 L1130.0 945.2 L1131.5 945.7 L1133.0 946.2 L1134.5 946.7 L1136.0 947.2 L1137.5 947.7 L1139.0 948.2 L1140.5 948.7 L1142.0 949.2 L1143.5 949.6 L1145.0 950.1 L1146.5 950.6 L1148.0 951.1 L1149.5 951.6 L1151.0 952.1 L1152.5 952.6 L1154.0 953.1 L1155.6 953.6 L1157.1 954.0 L1158.6 954.5 L1160.1 955.0 L1161.6 955.5 L1163.1 956.0 L1164.6 956.5 L1166.1 956.9 L1167.6 957.4 L1169.1 957.9 L1170.7 958.4 L1172.2 958.8 L1173.7 959.3 L1175.2 959.8 L1176.7 960.2 L1178.2 960.7 L1179.7 961.2 L1181.2 961.7 L1182.7 962.1 L1184.3 962.6 L1185.8 963.0 L1187.3 963.5 L1188.8 964.0 L1190.3 964.4 L1191.8 964.9 L1193.3 965.3 L1194.8 965.8 L1196.3 966.2 L1197.9 966.7 L1199.4 967.2 L1200.9 967.6 L1202.4 968.1 L1203.9 968.5 L1205.4 968.9 L1206.9 969.4 L1208.4 969.8 L1209.9 970.3 L1211.5 970.7 L1213.0 971.2 L1214.5 971.6 L1216.0 972.0 L1217.5 972.5 L1219.0 972.9 L1220.5 973.4 L1222.0 973.8 L1223.5 974.2 L1225.0 974.7 L1226.6 975.1 L1228.1 975.5 L1229.6 975.9 L1231.1 976.4 L1232.6 976.8 L1234.1 977.2 L1235.6 977.7 L1237.2 978.1 L1238.7 978.5 L1240.2 978.9 L1241.7 979.4 L1243.2 979.8 L1244.7 980.2 L1246.3 980.6 L1247.8 981.0 L1249.3 981.5 L1250.8 981.9 L1252.3 982.3 L1253.9 982.7 L1255.4 983.1 L1256.9 983.5 L1258.4 983.9 L1260.0 984.4 L1261.5 984.8 L1263.0 985.2 L1264.6 985.6 L1266.1 986.0 L1267.6 986.4 L1269.1 986.8 L1270.7 987.2 L1272.2 987.6 L1273.7 988.0 L1275.3 988.4 L1276.8 988.8 L1278.3 989.2 L1279.9 989.6 L1281.4 990.0 L1282.9 990.4 L1284.4 990.8 L1286.0 991.2 L1287.5 991.6 L1289.0 992.0 L1290.6 992.4 L1292.1 992.8 L1293.6 993.2 L1295.2 993.6 L1296.7 994.0 L1298.2 994.4 L1299.7 994.8 L1301.3 995.1 L1302.8 995.5 L1304.3 995.9 L1305.9 996.3 L1307.4 996.7 L1308.9 997.1 L1310.5 997.4 L1312.0 997.8 L1313.5 998.2 L1315.0 998.6 L1316.6 999.0 L1318.1 999.3 L1319.6 999.7 L1321.2 1000.1 L1322.7 1000.5 L1324.2 1000.8 L1325.7 1001.2 L1327.3 1001.6 L1328.8 1002.0 L1330.3 1002.3 L1331.9 1002.7 L1333.4 1003.1 L1334.9 1003.4 L1336.5 1003.8 L1338.0 1004.2 L1339.5 1004.5 L1341.0 1004.9 L1342.6 1005.3 L1344.1 1005.6 L1345.6 1006.0 L1347.2 1006.3 L1348.7 1006.7 L1350.2 1007.1 L1351.7 1007.4 L1353.2 1007.8 L1354.8 1008.1 L1356.3 1008.5 L1357.8 1008.8 L1359.3 1009.2" stroke-width="6.5" stroke-linecap="round" stroke-linejoin="round" fill="none"/>
<path d="M382.5 268.3 L384.0 273.0 L385.6 277.6 L387.1 282.1 L388.6 286.7 L390.2 291.1 L391.7 295.6 L393.3 300.0 L394.8 304.3 L396.4 308.7 L397.9 312.9 L399.5 317.2 L401.0 321.4 L402.6 325.6 L404.2 329.7 L405.7 333.8 L407.3 337.9 L408.9 341.9 L410.5 345.9 L412.1 349.9 L413.7 353.9 L415.3 357.8 L416.9 361.7 L418.5 365.5 L420.1 369.4 L421.8 373.2 L423.4 376.9 L425.0 380.7 L426.7 384.4 L428.3 388.1 L430.0 391.8 L431.6 395.4 L433.3 399.0 L435.0 402.6 L436.6 406.2 L438.3 409.7 L440.0 413.3 L441.7 416.8 L443.4 420.2 L445.1 423.7 L446.7 427.1 L448.4 430.5 L450.1 433.8 L451.8 437.2 L453.5 440.5 L455.2 443.8 L456.9 447.1 L458.5 450.3 L460.2 453.5 L461.8 456.7 L463.5 459.9 L465.1 463.0 L466.7 466.2 L468.3 469.3 L469.9 472.3 L471.5 475.4 L473.1 478.4 L474.7 481.4 L476.2 484.4 L477.8 487.4 L479.3 490.3 L480.8 493.2 L482.3 496.1 L483.8 499.0 L485.3 501.9 L486.8 504.7 L488.3 507.5 L489.8 510.3 L491.2 513.1 L492.7 515.8 L494.1 518.6 L495.5 521.3 L497.0 524.0 L498.4 526.6 L499.8 529.3 L501.2 532.0 L502.7 534.6 L504.1 537.2 L505.5 539.8 L507.0 542.4 L508.4 544.9 L509.8 547.4 L511.3 550.0 L512.7 552.5 L514.1 555.0 L515.6 557.4 L517.0 559.9 L518.4 562.4 L519.9 564.8 L521.3 567.2 L522.7 569.6 L524.2 572.0 L525.6 574.4 L527.0 576.7 L528.5 579.1 L529.9 581.4 L531.4 583.7 L532.8 586.0 L534.3 588.3 L535.7 590.6 L537.2 592.9 L538.7 595.2 L540.1 597.4 L541.6 599.6 L543.1 601.9 L544.5 604.1 L546.0 606.3 L547.5 608.5 L549.0 610.7 L550.4 612.8 L551.9 615.0 L553.4 617.1 L554.9 619.3 L556.4 621.4 L557.9 623.5 L559.4 625.6 L560.9 627.7 L562.4 629.8 L563.8 631.9 L565.3 633.9 L566.8 636.0 L568.3 638.0 L569.8 640.0 L571.3 642.0 L572.8 644.0 L574.3 646.0 L575.8 648.0 L577.3 650.0 L578.8 651.9 L580.2 653.9 L581.7 655.8 L583.2 657.7 L584.7 659.6 L586.2 661.5 L587.7 663.4 L589.2 665.3 L590.7 667.2 L592.2 669.0 L593.7 670.9 L595.2 672.7 L596.7 674.5 L598.1 676.4 L599.6 678.2 L601.1 680.0 L602.6 681.8 L604.1 683.5 L605.6 685.3 L607.1 687.1 L608.6 688.8 L610.1 690.6 L611.6 692.3 L613.1 694.0 L614.6 695.7 L616.0 697.4 L617.5 699.1 L619.0 700.8 L620.5 702.5 L622.0 704.2 L623.5 705.8 L625.0 707.5 L626.5 709.1 L628.0 710.7 L629.4 712.4 L630.9 714.0 L632.4 715.6 L633.9 717.2 L635.4 718.8 L636.9 720.3 L638.4 721.9 L639.9 723.5 L641.4 725.0 L642.8 726.6 L644.3 728.1 L645.8 729.7 L647.3 731.2 L648.8 732.7 L650.3 734.2 L651.8 735.7 L653.2 737.2 L654.7 738.7 L656.2 740.2 L657.7 741.6 L659.2 743.1 L660.7 744.5 L662.2 746.0 L663.7 747.4 L665.1 748.9 L666.6 750.3 L668.1 751.7 L669.6 753.1 L671.1 754.6 L672.6 756.0 L674.1 757.3 L675.6 758.7 L677.0 760.1 L678.5 761.5 L680.0 762.9 L681.5 764.2 L683.0 765.6 L684.4 767.0 L685.9 768.3 L687.4 769.7 L688.8 771.0 L690.3 772.4 L691.8 773.7 L693.2 775.1 L694.7 776.4 L696.1 777.8 L697.6 779.1 L699.0 780.4 L700.4 781.8 L701.9 783.1 L703.3 784.4 L704.7 785.8 L706.2 787.1 L707.6 788.4 L709.0 789.7 L710.4 791.0 L711.9 792.3 L713.3 793.6 L714.7 794.9 L716.1 796.2 L717.5 797.5 L718.9 798.8 L720.3 800.1 L721.8 801.3 L723.2 802.6 L724.6 803.9 L726.0 805.1 L727.4 806.4 L728.9 807.6 L730.3 808.8 L731.7 810.1 L733.2 811.3 L734.6 812.5 L736.1 813.7 L737.5 814.9 L739.0 816.1 L740.4 817.2 L741.9 818.4 L743.4 819.6 L744.9 820.7 L746.4 821.9 L747.9 823.0 L749.3 824.1 L750.9 825.3 L752.4 826.4 L753.9 827.5 L755.4 828.6 L756.9 829.7 L758.4 830.8 L760.0 831.8 L761.5 832.9 L763.0 834.0 L764.6 835.0 L766.1 836.1 L767.7 837.1 L769.2 838.1 L770.7 839.1 L772.3 840.1 L773.8 841.1 L775.4 842.0 L776.9 843.0 L778.4 844.0 L780.0 844.9 L781.5 845.8 L783.1 846.7 L784.6 847.6 L786.1 848.5 L787.7 849.4 L789.2 850.3 L790.7 851.2 L792.3 852.0 L793.8 852.9 L795.3 853.8 L796.9 854.6 L798.4 855.5 L799.9 856.3 L801.5 857.2 L803.0 858.0 L804.5 858.9 L806.1 859.7 L807.6 860.6 L809.1 861.5 L810.6 862.3 L812.2 863.2 L813.7 864.0 L815.2 864.9 L816.7 865.8 L818.3 866.6 L819.8 867.5 L821.3 868.4 L822.8 869.3 L824.4 870.1 L825.9 871.0 L827.4 871.9 L828.9 872.8 L830.4 873.6 L832.0 874.5 L833.5 875.4 L835.0 876.2 L836.5 877.1 L838.1 878.0 L839.6 878.8 L841.1 879.6 L842.6 880.5 L844.1 881.3 L845.7 882.2 L847.2 883.0 L848.7 883.8 L850.2 884.7 L851.7 885.5 L853.3 886.3 L854.8 887.1 L856.3 887.9 L857.8 888.8 L859.4 889.6 L860.9 890.4 L862.4 891.2 L863.9 892.0 L865.4 892.8 L867.0 893.6 L868.5 894.4 L870.0 895.1 L871.5 895.9 L873.0 896.7 L874.6 897.5 L876.1 898.3 L877.6 899.0 L879.1 899.8 L880.6 900.6 L882.2 901.4 L883.7 902.1 L885.2 902.9 L886.7 903.6 L888.2 904.4 L889.8 905.1 L891.3 905.9 L892.8 906.6 L894.3 907.4 L895.9 908.1 L897.4 908.9 L898.9 909.6 L900.4 910.3 L901.9 911.1 L903.5 911.8 L905.0 912.5 L906.5 913.2 L908.0 914.0 L909.5 914.7 L911.0 915.4 L912.6 916.1 L914.1 916.8 L915.6 917.5 L917.1 918.2 L918.6 918.9 L920.1 919.6 L921.7 920.3 L923.2 921.0 L924.7 921.7 L926.2 922.4 L927.7 923.1 L929.2 923.8 L930.7 924.4 L932.2 925.1 L933.8 925.8 L935.3 926.5 L936.8 927.1 L938.3 927.8 L939.8 928.5 L941.3 929.1 L942.8 929.8 L944.3 930.4 L945.8 931.1 L947.3 931.7 L948.8 932.3 L950.3 933.0 L951.9 933.6 L953.4 934.3 L954.9 934.9 L956.4 935.5 L957.9 936.1 L959.4 936.8 L960.9 937.4 L962.4 938.0 L963.9 938.6 L965.4 939.2 L966.9 939.8 L968.4 940.4 L969.9 941.0 L971.4 941.6 L972.9 942.2 L974.4 942.8 L975.9 943.4 L977.4 944.0 L978.9 944.6 L980.4 945.2 L982.0 945.8 L983.5 946.4 L985.0 947.0 L986.5 947.6 L988.0 948.2 L989.5 948.7 L991.0 949.3 L992.5 949.9 L994.0 950.5 L995.5 951.0 L997.0 951.6 L998.5 952.2 L1000.0 952.7 L1001.5 953.3 L1003.0 953.9 L1004.5 954.4 L1006.0 955.0 L1007.5 955.6 L1009.0 956.1 L1010.5 956.7 L1012.1 957.2 L1013.6 957.8 L1015.1 958.4 L1016.6 958.9 L1018.1 959.5 L1019.6 960.1 L1021.1 960.6 L1022.6 961.2 L1024.1 961.8 L1025.6 962.4 L1027.1 963.0 L1028.6 963.5 L1030.1 964.1 L1031.6 964.7 L1033.1 965.3 L1034.6 965.9 L1036.1 966.5 L1037.6 967.1 L1039.1 967.7 L1040.6 968.3 L1042.1 968.9 L1043.5 969.5 L1045.0 970.1 L1046.5 970.7 L1048.0 971.3 L1049.5 971.9 L1051.0 972.5 L1052.4 973.1 L1053.9 973.8 L1055.4 974.4 L1056.9 975.0 L1058.3 975.6 L1059.8 976.2 L1061.3 976.9 L1062.7 977.5 L1064.2 978.1 L1065.6 978.7 L1067.1 979.4 L1068.5 980.0 L1070.0 980.6 L1071.4 981.3 L1072.8 981.9 L1074.3 982.5 L1075.7 983.1 L1077.2 983.8 L1078.6 984.4 L1080.1 985.0 L1081.5 985.6 L1083.0 986.2 L1084.4 986.8 L1085.9 987.3 L1087.4 987.9 L1088.8 988.5 L1090.3 989.0 L1091.8 989.6 L1093.3 990.1 L1094.8 990.7 L1096.3 991.2 L1097.8 991.7 L1099.3 992.2 L1100.8 992.7 L1102.3 993.2 L1103.8 993.7 L1105.3 994.2 L1106.8 994.7 L1108.4 995.1 L1109.9 995.6 L1111.4 996.1 L1113.0 996.5 L1114.5 997.0 L1116.0 997.4 L1117.6 997.9 L1119.1 998.3 L1120.6 998.8 L1122.1 999.2 L1123.7 999.7 L1125.2 1000.1 L1126.7 1000.6 L1128.2 1001.0 L1129.7 1001.5 L1131.2 1001.9 L1132.8 1002.4 L1134.3 1002.8 L1135.8 1003.3 L1137.3 1003.7 L1138.8 1004.2 L1140.3 1004.6 L1141.8 1005.0 L1143.3 1005.5 L1144.8 1005.9 L1146.3 1006.4 L1147.8 1006.8 L1149.3 1007.2 L1150.8 1007.7 L1152.3 1008.1 L1153.8 1008.5 L1155.3 1009.0 L1156.8 1009.4 L1158.2 1009.8 L1159.7 1010.3 L1161.2 1010.7 L1162.7 1011.1 L1164.2 1011.5 L1165.7 1012.0 L1167.2 1012.4 L1168.7 1012.8 L1170.2 1013.2 L1171.7 1013.6 L1173.2 1014.1 L1174.6 1014.5 L1176.1 1014.9 L1177.6 1015.3 L1179.1 1015.7 L1180.6 1016.1 L1182.1 1016.5 L1183.6 1016.9 L1185.1 1017.4 L1186.6 1017.8 L1188.1 1018.2 L1189.6 1018.6 L1191.0 1019.0 L1192.5 1019.4 L1194.0 1019.8 L1195.5 1020.2 L1197.0 1020.6 L1198.5 1021.0 L1200.0 1021.4 L1201.5 1021.8 L1203.0 1022.2 L1204.5 1022.6 L1206.0 1023.0 L1207.4 1023.4 L1208.9 1023.7 L1210.4 1024.1 L1211.9 1024.5 L1213.4 1024.9 L1214.9 1025.3 L1216.4 1025.7 L1217.9 1026.1 L1219.4 1026.5 L1220.9 1026.8 L1222.3 1027.2 L1223.8 1027.6 L1225.3 1028.0 L1226.8 1028.4 L1228.3 1028.7 L1229.8 1029.1 L1231.3 1029.5 L1232.8 1029.9 L1234.3 1030.2 L1235.8 1030.6 L1237.3 1031.0 L1238.8 1031.4 L1240.3 1031.7 L1241.8 1032.1 L1243.3 1032.4 L1244.8 1032.8 L1246.3 1033.2 L1247.8 1033.5 L1249.3 1033.9 L1250.9 1034.3 L1252.4 1034.6 L1253.9 1035.0 L1255.4 1035.3 L1256.9 1035.7 L1258.5 1036.0 L1260.0 1036.4 L1261.5 1036.7 L1263.0 1037.1 L1264.6 1037.4 L1266.1 1037.8 L1267.6 1038.1 L1269.1 1038.5 L1270.7 1038.8 L1272.2 1039.2 L1273.7 1039.5 L1275.3 1039.8 L1276.8 1040.2 L1278.3 1040.5 L1279.9 1040.9 L1281.4 1041.2 L1282.9 1041.5 L1284.4 1041.9 L1286.0 1042.2 L1287.5 1042.5 L1289.0 1042.9 L1290.6 1043.2 L1292.1 1043.5 L1293.6 1043.9 L1295.2 1044.2 L1296.7 1044.5 L1298.2 1044.8 L1299.7 1045.2 L1301.3 1045.5 L1302.8 1045.8 L1304.3 1046.1 L1305.9 1046.5 L1307.4 1046.8 L1308.9 1047.1 L1310.5 1047.4 L1312.0 1047.8 L1313.5 1048.1 L1315.0 1048.4 L1316.6 1048.7 L1318.1 1049.0 L1319.6 1049.3 L1321.2 1049.7 L1322.7 1050.0 L1324.2 1050.3 L1325.7 1050.6 L1327.3 1050.9 L1328.8 1051.2 L1330.3 1051.5 L1331.9 1051.8 L1333.4 1052.2 L1334.9 1052.5 L1336.5 1052.8 L1338.0 1053.1 L1339.5 1053.4 L1341.0 1053.7 L1342.6 1054.0 L1344.1 1054.3 L1345.6 1054.6 L1347.2 1054.9 L1348.7 1055.2 L1350.2 1055.5 L1351.7 1055.8 L1353.2 1056.1 L1354.8 1056.4 L1356.3 1056.7 L1357.8 1057.0 L1359.3 1057.3" stroke-width="6.5" stroke-linecap="round" stroke-linejoin="round" fill="none"/>
<path d="M360.1 268.0 L361.7 273.3 L363.2 278.6 L364.7 283.8 L366.3 289.0 L367.8 294.1 L369.3 299.1 L370.9 304.1 L372.4 309.0 L373.9 313.9 L375.5 318.7 L377.0 323.5 L378.6 328.2 L380.1 332.9 L381.7 337.6 L383.2 342.2 L384.8 346.7 L386.3 351.2 L387.9 355.7 L389.4 360.2 L391.0 364.6 L392.5 368.9 L394.1 373.3 L395.7 377.5 L397.2 381.8 L398.8 386.0 L400.3 390.2 L401.9 394.4 L403.5 398.5 L405.0 402.6 L406.6 406.6 L408.2 410.6 L409.7 414.6 L411.3 418.6 L412.9 422.5 L414.4 426.4 L416.0 430.3 L417.6 434.1 L419.1 437.9 L420.7 441.7 L422.3 445.4 L423.8 449.1 L425.4 452.8 L426.9 456.5 L428.5 460.1 L430.0 463.7 L431.6 467.3 L433.1 470.9 L434.6 474.4 L436.1 477.9 L437.6 481.4 L439.2 484.9 L440.7 488.3 L442.2 491.7 L443.7 495.1 L445.2 498.5 L446.7 501.8 L448.1 505.2 L449.6 508.5 L451.1 511.7 L452.6 515.0 L454.0 518.3 L455.5 521.5 L457.0 524.7 L458.4 527.9 L459.9 531.0 L461.3 534.2 L462.8 537.3 L464.3 540.4 L465.7 543.4 L467.2 546.5 L468.6 549.5 L470.1 552.5 L471.6 555.5 L473.0 558.4 L474.5 561.4 L475.9 564.3 L477.4 567.2 L478.9 570.0 L480.3 572.9 L481.8 575.7 L483.3 578.5 L484.7 581.3 L486.2 584.0 L487.7 586.8 L489.2 589.5 L490.7 592.2 L492.2 594.9 L493.6 597.5 L495.1 600.2 L496.6 602.8 L498.1 605.4 L499.6 607.9 L501.1 610.5 L502.6 613.0 L504.1 615.6 L505.6 618.1 L507.1 620.5 L508.6 623.0 L510.1 625.4 L511.6 627.9 L513.2 630.3 L514.7 632.7 L516.2 635.1 L517.7 637.4 L519.2 639.8 L520.7 642.1 L522.2 644.4 L523.7 646.7 L525.2 649.0 L526.7 651.3 L528.3 653.5 L529.8 655.8 L531.3 658.0 L532.8 660.2 L534.3 662.4 L535.8 664.6 L537.3 666.8 L538.8 668.9 L540.3 671.1 L541.8 673.2 L543.4 675.3 L544.9 677.4 L546.4 679.5 L547.9 681.6 L549.4 683.7 L550.9 685.7 L552.4 687.8 L553.9 689.8 L555.5 691.8 L557.0 693.8 L558.5 695.7 L560.1 697.7 L561.6 699.6 L563.2 701.6 L564.7 703.5 L566.3 705.4 L567.8 707.2 L569.4 709.1 L570.9 711.0 L572.5 712.8 L574.1 714.7 L575.6 716.5 L577.2 718.3 L578.7 720.1 L580.3 721.9 L581.8 723.7 L583.3 725.5 L584.9 727.2 L586.4 729.0 L588.0 730.7 L589.5 732.5 L591.1 734.2 L592.6 735.9 L594.1 737.6 L595.6 739.3 L597.1 741.0 L598.6 742.7 L600.1 744.4 L601.6 746.1 L603.1 747.8 L604.6 749.4 L606.1 751.1 L607.6 752.7 L609.1 754.4 L610.6 756.0 L612.1 757.6 L613.5 759.2 L615.0 760.8 L616.5 762.4 L618.0 764.0 L619.5 765.6 L621.0 767.2 L622.5 768.7 L623.9 770.3 L625.4 771.8 L626.9 773.4 L628.4 774.9 L629.9 776.4 L631.4 777.9 L632.9 779.4 L634.4 780.9 L635.8 782.4 L637.3 783.9 L638.8 785.4 L640.3 786.8 L641.8 788.3 L643.3 789.7 L644.8 791.2 L646.2 792.6 L647.7 794.0 L649.2 795.4 L650.7 796.9 L652.2 798.3 L653.7 799.7 L655.2 801.1 L656.7 802.4 L658.1 803.8 L659.6 805.2 L661.1 806.5 L662.6 807.9 L664.1 809.3 L665.6 810.6 L667.0 812.0 L668.5 813.3 L670.0 814.6 L671.5 816.0 L672.9 817.3 L674.4 818.6 L675.9 819.9 L677.4 821.2 L678.8 822.5 L680.3 823.8 L681.8 825.1 L683.2 826.4 L684.7 827.7 L686.2 828.9 L687.6 830.2 L689.1 831.5 L690.6 832.7 L692.0 834.0 L693.5 835.2 L694.9 836.5 L696.4 837.7 L697.9 838.9 L699.3 840.2 L700.8 841.4 L702.2 842.6 L703.7 843.8 L705.2 845.0 L706.6 846.2 L708.1 847.4 L709.6 848.5 L711.0 849.7 L712.5 850.9 L714.0 852.1 L715.4 853.2 L716.9 854.4 L718.4 855.5 L719.8 856.7 L721.3 857.8 L722.8 858.9 L724.2 860.0 L725.7 861.2 L727.2 862.3 L728.6 863.4 L730.1 864.5 L731.6 865.6 L733.0 866.7 L734.5 867.8 L736.0 868.9 L737.4 870.0 L738.9 871.0 L740.4 872.1 L741.8 873.2 L743.3 874.2 L744.8 875.3 L746.2 876.4 L747.7 877.4 L749.2 878.5 L750.6 879.5 L752.1 880.5 L753.6 881.6 L755.0 882.6 L756.5 883.6 L758.0 884.6 L759.4 885.6 L760.9 886.7 L762.4 887.7 L763.9 888.7 L765.3 889.6 L766.8 890.6 L768.3 891.6 L769.8 892.6 L771.2 893.5 L772.7 894.5 L774.2 895.4 L775.7 896.3 L777.2 897.3 L778.7 898.2 L780.2 899.1 L781.7 900.0 L783.2 900.9 L784.7 901.7 L786.2 902.6 L787.8 903.5 L789.3 904.3 L790.8 905.2 L792.3 906.0 L793.8 906.9 L795.4 907.7 L796.9 908.6 L798.4 909.4 L800.0 910.2 L801.5 911.0 L803.0 911.9 L804.6 912.7 L806.1 913.5 L807.7 914.3 L809.2 915.1 L810.7 915.9 L812.3 916.7 L813.8 917.6 L815.4 918.4 L816.9 919.2 L818.4 920.0 L820.0 920.8 L821.5 921.6 L823.0 922.4 L824.6 923.2 L826.1 924.0 L827.6 924.8 L829.2 925.6 L830.7 926.4 L832.2 927.2 L833.7 928.0 L835.3 928.8 L836.8 929.6 L838.3 930.4 L839.8 931.2 L841.4 932.0 L842.9 932.8 L844.4 933.5 L845.9 934.3 L847.4 935.1 L849.0 935.9 L850.5 936.6 L852.0 937.4 L853.5 938.2 L855.0 938.9 L856.5 939.7 L858.1 940.4 L859.6 941.2 L861.1 941.9 L862.6 942.7 L864.1 943.4 L865.6 944.1 L867.1 944.9 L868.7 945.6 L870.2 946.3 L871.7 947.1 L873.2 947.8 L874.7 948.5 L876.2 949.2 L877.7 950.0 L879.3 950.7 L880.8 951.4 L882.3 952.1 L883.8 952.8 L885.3 953.5 L886.8 954.2 L888.4 954.9 L889.9 955.6 L891.4 956.3 L892.9 957.0 L894.4 957.7 L895.9 958.4 L897.4 959.0 L899.0 959.7 L900.5 960.4 L902.0 961.1 L903.5 961.8 L905.0 962.4 L906.5 963.1 L908.0 963.8 L909.5 964.4 L911.1 965.1 L912.6 965.7 L914.1 966.4 L915.6 967.1 L917.1 967.7 L918.6 968.4 L920.1 969.0 L921.6 969.6 L923.1 970.3 L924.6 970.9 L926.2 971.6 L927.7 972.2 L929.2 972.8 L930.7 973.5 L932.2 974.1 L933.7 974.7 L935.2 975.3 L936.7 976.0 L938.2 976.6 L939.7 977.2 L941.2 977.8 L942.7 978.4 L944.2 979.0 L945.7 979.6 L947.3 980.2 L948.8 980.9 L950.3 981.5 L951.8 982.1 L953.3 982.7 L954.8 983.3 L956.3 983.8 L957.8 984.4 L959.3 985.0 L960.8 985.6 L962.3 986.2 L963.8 986.8 L965.3 987.4 L966.8 987.9 L968.3 988.5 L969.9 989.1 L971.4 989.7 L972.9 990.2 L974.4 990.8 L975.9 991.4 L977.4 991.9 L978.9 992.5 L980.4 993.1 L981.9 993.6 L983.4 994.2 L984.9 994.7 L986.4 995.3 L987.9 995.9 L989.4 996.4 L990.9 997.0 L992.5 997.5 L994.0 998.1 L995.5 998.6 L997.0 999.1 L998.5 999.7 L1000.0 1000.2 L1001.5 1000.8 L1003.0 1001.3 L1004.5 1001.8 L1006.0 1002.3 L1007.5 1002.9 L1009.0 1003.4 L1010.5 1003.9 L1012.0 1004.5 L1013.5 1005.0 L1015.0 1005.5 L1016.6 1006.1 L1018.1 1006.6 L1019.6 1007.1 L1021.1 1007.6 L1022.6 1008.2 L1024.1 1008.7 L1025.6 1009.2 L1027.1 1009.8 L1028.6 1010.3 L1030.1 1010.8 L1031.6 1011.3 L1033.1 1011.9 L1034.6 1012.4 L1036.1 1012.9 L1037.6 1013.5 L1039.1 1014.0 L1040.6 1014.5 L1042.1 1015.0 L1043.5 1015.6 L1045.0 1016.1 L1046.5 1016.6 L1048.0 1017.2 L1049.5 1017.7 L1051.0 1018.3 L1052.4 1018.8 L1053.9 1019.4 L1055.4 1019.9 L1056.9 1020.5 L1058.3 1021.1 L1059.8 1021.6 L1061.3 1022.2 L1062.7 1022.8 L1064.2 1023.3 L1065.6 1023.9 L1067.1 1024.5 L1068.5 1025.1 L1070.0 1025.6 L1071.4 1026.2 L1072.8 1026.8 L1074.3 1027.4 L1075.7 1028.0 L1077.2 1028.5 L1078.6 1029.1 L1080.1 1029.6 L1081.5 1030.2 L1083.0 1030.7 L1084.4 1031.2 L1085.9 1031.7 L1087.4 1032.2 L1088.8 1032.7 L1090.3 1033.2 L1091.8 1033.6 L1093.3 1034.1 L1094.8 1034.5 L1096.3 1035.0 L1097.8 1035.4 L1099.3 1035.8 L1100.8 1036.2 L1102.3 1036.6 L1103.8 1037.0 L1105.3 1037.3 L1106.8 1037.7 L1108.4 1038.0 L1109.9 1038.4 L1111.4 1038.7 L1113.0 1039.0 L1114.5 1039.4 L1116.0 1039.7 L1117.6 1040.0 L1119.1 1040.4 L1120.6 1040.7 L1122.1 1041.1 L1123.7 1041.4 L1125.2 1041.8 L1126.7 1042.2 L1128.2 1042.5 L1129.7 1042.9 L1131.2 1043.3 L1132.8 1043.7 L1134.3 1044.1 L1135.8 1044.5 L1137.3 1044.9 L1138.8 1045.3 L1140.3 1045.7 L1141.8 1046.1 L1143.3 1046.5 L1144.8 1046.9 L1146.3 1047.3 L1147.8 1047.8 L1149.3 1048.2 L1150.8 1048.6 L1152.3 1049.1 L1153.8 1049.5 L1155.3 1050.0 L1156.8 1050.4 L1158.2 1050.9 L1159.7 1051.3 L1161.2 1051.8 L1162.7 1052.2 L1164.2 1052.7 L1165.7 1053.1 L1167.2 1053.5 L1168.7 1054.0 L1170.2 1054.4 L1171.7 1054.9 L1173.2 1055.3 L1174.6 1055.7 L1176.1 1056.2 L1177.6 1056.6 L1179.1 1057.0 L1180.6 1057.5 L1182.1 1057.9 L1183.6 1058.3 L1185.1 1058.7 L1186.6 1059.2 L1188.1 1059.6 L1189.6 1060.0 L1191.0 1060.4 L1192.5 1060.9 L1194.0 1061.3 L1195.5 1061.7 L1197.0 1062.1 L1198.5 1062.5 L1200.0 1063.0 L1201.5 1063.4 L1203.0 1063.8 L1204.5 1064.2 L1206.0 1064.6 L1207.4 1065.0 L1208.9 1065.4 L1210.4 1065.8 L1211.9 1066.3 L1213.4 1066.7 L1214.9 1067.1 L1216.4 1067.5 L1217.9 1067.9 L1219.4 1068.3 L1220.9 1068.7 L1222.3 1069.1 L1223.8 1069.5 L1225.3 1069.9 L1226.8 1070.3 L1228.3 1070.7 L1229.8 1071.1 L1231.3 1071.5 L1232.8 1071.9 L1234.3 1072.2 L1235.8 1072.6 L1237.3 1073.0 L1238.8 1073.3 L1240.3 1073.7 L1241.8 1074.0 L1243.3 1074.4 L1244.8 1074.7 L1246.3 1075.1 L1247.8 1075.4 L1249.3 1075.7 L1250.9 1076.1 L1252.4 1076.4 L1253.9 1076.7 L1255.4 1077.0 L1256.9 1077.3 L1258.5 1077.6 L1260.0 1077.9 L1261.5 1078.2 L1263.0 1078.5 L1264.6 1078.7 L1266.1 1079.0 L1267.6 1079.3 L1269.1 1079.6 L1270.7 1079.8 L1272.2 1080.1 L1273.7 1080.4 L1275.3 1080.6 L1276.8 1080.9 L1278.3 1081.2 L1279.9 1081.4 L1281.4 1081.7 L1282.9 1082.0 L1284.4 1082.2 L1286.0 1082.5 L1287.5 1082.8 L1289.0 1083.0 L1290.6 1083.3 L1292.1 1083.5 L1293.6 1083.8 L1295.2 1084.0 L1296.7 1084.3 L1298.2 1084.6 L1299.7 1084.8 L1301.3 1085.1 L1302.8 1085.3 L1304.3 1085.6 L1305.9 1085.8 L1307.4 1086.1 L1308.9 1086.3 L1310.5 1086.6 L1312.0 1086.8 L1313.5 1087.1 L1315.0 1087.3 L1316.6 1087.6 L1318.1 1087.8 L1319.6 1088.1 L1321.2 1088.3 L1322.7 1088.6 L1324.2 1088.8 L1325.7 1089.0 L1327.3 1089.3 L1328.8 1089.5 L1330.3 1089.8 L1331.9 1090.0 L1333.4 1090.2 L1334.9 1090.5 L1336.5 1090.7 L1338.0 1091.0 L1339.5 1091.2 L1341.0 1091.4 L1342.6 1091.7 L1344.1 1091.9 L1345.6 1092.1 L1347.2 1092.4 L1348.7 1092.6 L1350.2 1092.9 L1351.7 1093.1 L1353.2 1093.4 L1354.8 1093.6 L1356.3 1093.9 L1357.8 1094.1 L1359.3 1094.4" stroke-width="6.5" stroke-linecap="round" stroke-linejoin="round" fill="none"/>
<path d="M347.8 268.4 L349.3 274.4 L350.8 280.5 L352.2 286.4 L353.7 292.3 L355.2 298.1 L356.6 303.8 L358.1 309.5 L359.5 315.1 L361.0 320.7 L362.5 326.2 L363.9 331.6 L365.4 337.0 L366.9 342.3 L368.3 347.6 L369.8 352.8 L371.3 358.0 L372.8 363.1 L374.2 368.2 L375.7 373.2 L377.2 378.2 L378.7 383.1 L380.2 388.0 L381.7 392.8 L383.2 397.6 L384.7 402.3 L386.2 407.0 L387.7 411.7 L389.2 416.3 L390.7 420.8 L392.2 425.4 L393.7 429.9 L395.3 434.3 L396.8 438.7 L398.3 443.1 L399.8 447.4 L401.3 451.7 L402.8 455.9 L404.2 460.1 L405.7 464.3 L407.2 468.4 L408.6 472.5 L410.1 476.5 L411.5 480.5 L413.0 484.5 L414.4 488.4 L415.8 492.3 L417.2 496.2 L418.6 500.0 L420.1 503.8 L421.5 507.6 L422.8 511.3 L424.2 515.0 L425.6 518.7 L427.0 522.3 L428.4 525.9 L429.7 529.5 L431.1 533.0 L432.4 536.5 L433.8 540.0 L435.1 543.5 L436.5 546.9 L437.9 550.3 L439.2 553.7 L440.6 557.0 L442.0 560.3 L443.3 563.6 L444.7 566.8 L446.1 570.1 L447.5 573.3 L448.9 576.4 L450.4 579.6 L451.8 582.7 L453.2 585.8 L454.7 588.9 L456.1 591.9 L457.6 595.0 L459.0 598.0 L460.5 600.9 L462.0 603.9 L463.5 606.8 L464.9 609.7 L466.4 612.6 L468.0 615.4 L469.5 618.3 L471.0 621.1 L472.5 623.9 L474.0 626.6 L475.6 629.4 L477.1 632.1 L478.7 634.8 L480.2 637.5 L481.8 640.2 L483.3 642.8 L484.9 645.4 L486.4 648.1 L488.0 650.6 L489.5 653.2 L491.1 655.8 L492.6 658.3 L494.1 660.8 L495.7 663.3 L497.2 665.8 L498.8 668.2 L500.3 670.7 L501.9 673.1 L503.4 675.5 L505.0 677.9 L506.5 680.3 L508.0 682.6 L509.6 685.0 L511.1 687.3 L512.7 689.6 L514.2 691.9 L515.8 694.2 L517.3 696.4 L518.8 698.7 L520.4 700.9 L521.9 703.1 L523.5 705.3 L525.0 707.5 L526.6 709.7 L528.1 711.9 L529.7 714.0 L531.2 716.1 L532.8 718.3 L534.3 720.4 L535.8 722.5 L537.4 724.5 L538.9 726.6 L540.5 728.7 L542.0 730.7 L543.6 732.7 L545.1 734.7 L546.7 736.7 L548.2 738.7 L549.8 740.7 L551.3 742.7 L552.9 744.6 L554.4 746.6 L556.0 748.5 L557.5 750.4 L559.0 752.3 L560.6 754.2 L562.1 756.1 L563.7 757.9 L565.2 759.8 L566.8 761.6 L568.3 763.5 L569.9 765.3 L571.4 767.1 L573.0 768.8 L574.5 770.6 L576.1 772.4 L577.6 774.1 L579.2 775.8 L580.7 777.5 L582.3 779.2 L583.8 780.9 L585.4 782.5 L586.9 784.2 L588.5 785.8 L590.1 787.4 L591.6 789.0 L593.2 790.6 L594.7 792.2 L596.3 793.7 L597.9 795.3 L599.4 796.8 L601.0 798.3 L602.6 799.8 L604.1 801.3 L605.7 802.8 L607.3 804.3 L608.8 805.7 L610.4 807.2 L611.9 808.6 L613.5 810.1 L615.0 811.5 L616.6 813.0 L618.1 814.4 L619.7 815.9 L621.2 817.3 L622.8 818.7 L624.3 820.1 L625.8 821.6 L627.3 823.0 L628.9 824.4 L630.4 825.8 L631.9 827.2 L633.4 828.6 L634.9 830.0 L636.5 831.4 L638.0 832.8 L639.5 834.2 L641.0 835.6 L642.5 837.0 L644.0 838.4 L645.5 839.7 L647.0 841.1 L648.5 842.5 L650.0 843.8 L651.5 845.2 L653.0 846.5 L654.5 847.8 L656.0 849.2 L657.5 850.5 L658.9 851.8 L660.4 853.1 L661.9 854.4 L663.4 855.7 L664.9 857.0 L666.4 858.2 L667.9 859.5 L669.4 860.8 L670.9 862.0 L672.4 863.3 L673.9 864.5 L675.4 865.8 L676.9 867.0 L678.4 868.2 L679.9 869.4 L681.4 870.6 L682.9 871.9 L684.4 873.1 L685.9 874.2 L687.4 875.4 L688.9 876.6 L690.4 877.8 L691.9 879.0 L693.3 880.1 L694.8 881.3 L696.3 882.4 L697.8 883.6 L699.3 884.7 L700.8 885.9 L702.2 887.0 L703.7 888.1 L705.2 889.2 L706.7 890.4 L708.2 891.5 L709.6 892.6 L711.1 893.7 L712.6 894.7 L714.1 895.8 L715.5 896.9 L717.0 898.0 L718.5 899.1 L720.0 900.1 L721.4 901.2 L722.9 902.2 L724.4 903.3 L725.9 904.3 L727.3 905.4 L728.8 906.4 L730.3 907.4 L731.8 908.5 L733.2 909.5 L734.7 910.5 L736.2 911.5 L737.7 912.5 L739.1 913.5 L740.6 914.5 L742.1 915.5 L743.6 916.5 L745.0 917.5 L746.5 918.5 L747.9 919.5 L749.4 920.5 L750.8 921.5 L752.3 922.5 L753.7 923.5 L755.1 924.5 L756.6 925.5 L758.0 926.5 L759.4 927.6 L760.8 928.6 L762.2 929.6 L763.6 930.6 L765.0 931.6 L766.4 932.6 L767.8 933.6 L769.2 934.6 L770.6 935.6 L772.0 936.6 L773.5 937.6 L774.9 938.5 L776.3 939.5 L777.7 940.5 L779.1 941.4 L780.6 942.4 L782.0 943.3 L783.5 944.2 L784.9 945.1 L786.4 946.0 L787.9 946.9 L789.4 947.8 L790.9 948.7 L792.4 949.5 L793.9 950.4 L795.4 951.2 L796.9 952.1 L798.4 952.9 L799.9 953.7 L801.5 954.5 L803.0 955.3 L804.5 956.1 L806.1 956.9 L807.6 957.7 L809.1 958.5 L810.6 959.3 L812.2 960.0 L813.7 960.8 L815.2 961.6 L816.7 962.4 L818.3 963.1 L819.8 963.9 L821.3 964.6 L822.8 965.4 L824.4 966.2 L825.9 966.9 L827.4 967.6 L828.9 968.4 L830.4 969.1 L832.0 969.9 L833.5 970.6 L835.0 971.3 L836.5 972.1 L838.1 972.8 L839.6 973.5 L841.1 974.2 L842.6 974.9 L844.1 975.7 L845.7 976.4 L847.2 977.1 L848.7 977.8 L850.2 978.5 L851.7 979.2 L853.3 979.9 L854.8 980.6 L856.3 981.3 L857.8 982.0 L859.3 982.6 L860.9 983.3 L862.4 984.0 L863.9 984.7 L865.4 985.4 L867.0 986.0 L868.5 986.7 L870.0 987.4 L871.5 988.0 L873.0 988.7 L874.6 989.3 L876.1 990.0 L877.6 990.7 L879.1 991.3 L880.6 992.0 L882.2 992.6 L883.7 993.2 L885.2 993.9 L886.7 994.5 L888.2 995.2 L889.8 995.8 L891.3 996.4 L892.8 997.1 L894.3 997.7 L895.9 998.3 L897.4 998.9 L898.9 999.5 L900.4 1000.2 L901.9 1000.8 L903.4 1001.4 L904.9 1002.0 L906.4 1002.6 L908.0 1003.2 L909.5 1003.9 L911.0 1004.5 L912.5 1005.1 L914.0 1005.7 L915.5 1006.3 L916.9 1006.9 L918.4 1007.5 L919.9 1008.1 L921.4 1008.7 L922.9 1009.3 L924.4 1009.9 L925.9 1010.5 L927.4 1011.1 L928.8 1011.7 L930.3 1012.3 L931.8 1012.9 L933.3 1013.5 L934.7 1014.1 L936.2 1014.7 L937.7 1015.3 L939.2 1015.9 L940.6 1016.5 L942.1 1017.0 L943.6 1017.6 L945.1 1018.2 L946.5 1018.8 L948.0 1019.4 L949.5 1019.9 L951.0 1020.5 L952.4 1021.1 L953.9 1021.6 L955.4 1022.2 L956.9 1022.8 L958.3 1023.4 L959.8 1024.0 L961.3 1024.6 L962.7 1025.2 L964.2 1025.8 L965.7 1026.4 L967.1 1027.0 L968.6 1027.6 L970.1 1028.3 L971.5 1028.9 L973.0 1029.5 L974.5 1030.2 L975.9 1030.8 L977.4 1031.4 L978.9 1032.0 L980.3 1032.6 L981.8 1033.2 L983.3 1033.8 L984.8 1034.4 L986.3 1035.0 L987.7 1035.6 L989.2 1036.2 L990.7 1036.8 L992.2 1037.3 L993.7 1037.9 L995.2 1038.4 L996.7 1039.0 L998.2 1039.5 L999.7 1040.0 L1001.2 1040.5 L1002.7 1041.0 L1004.3 1041.5 L1005.8 1041.9 L1007.3 1042.4 L1008.8 1042.8 L1010.3 1043.2 L1011.9 1043.7 L1013.4 1044.1 L1014.9 1044.6 L1016.4 1045.0 L1017.9 1045.4 L1019.5 1045.9 L1021.0 1046.3 L1022.5 1046.8 L1024.0 1047.2 L1025.5 1047.7 L1027.0 1048.1 L1028.5 1048.5 L1030.0 1049.0 L1031.5 1049.4 L1033.0 1049.9 L1034.5 1050.3 L1036.1 1050.8 L1037.6 1051.2 L1039.1 1051.7 L1040.6 1052.1 L1042.1 1052.6 L1043.5 1053.0 L1045.0 1053.5 L1046.5 1053.9 L1048.0 1054.4 L1049.5 1054.9 L1051.0 1055.3 L1052.5 1055.8 L1054.0 1056.3 L1055.5 1056.7 L1057.0 1057.2 L1058.5 1057.7 L1060.0 1058.2 L1061.5 1058.6 L1063.0 1059.1 L1064.5 1059.6 L1066.0 1060.1 L1067.5 1060.6 L1069.0 1061.1 L1070.5 1061.5 L1072.0 1062.0 L1073.5 1062.5 L1075.0 1063.0 L1076.5 1063.5 L1078.0 1064.0 L1079.5 1064.4 L1081.0 1064.9 L1082.5 1065.3 L1084.0 1065.8 L1085.6 1066.2 L1087.1 1066.6 L1088.6 1067.1 L1090.1 1067.5 L1091.6 1067.9 L1093.1 1068.3 L1094.6 1068.7 L1096.2 1069.0 L1097.7 1069.4 L1099.2 1069.8 L1100.7 1070.1 L1102.3 1070.5 L1103.8 1070.8 L1105.3 1071.2 L1106.8 1071.5 L1108.4 1071.8 L1109.9 1072.1 L1111.4 1072.4 L1113.0 1072.7 L1114.5 1073.0 L1116.0 1073.3 L1117.6 1073.6 L1119.1 1074.0 L1120.6 1074.3 L1122.1 1074.6 L1123.7 1074.9 L1125.2 1075.2 L1126.7 1075.6 L1128.2 1075.9 L1129.7 1076.2 L1131.2 1076.6 L1132.8 1076.9 L1134.3 1077.3 L1135.8 1077.6 L1137.3 1078.0 L1138.8 1078.4 L1140.3 1078.7 L1141.8 1079.1 L1143.3 1079.5 L1144.8 1079.8 L1146.3 1080.2 L1147.8 1080.6 L1149.3 1081.0 L1150.8 1081.4 L1152.3 1081.8 L1153.8 1082.2 L1155.3 1082.6 L1156.8 1083.0 L1158.3 1083.4 L1159.7 1083.8 L1161.2 1084.2 L1162.7 1084.5 L1164.2 1084.9 L1165.7 1085.3 L1167.2 1085.7 L1168.7 1086.1 L1170.2 1086.5 L1171.7 1086.9 L1173.2 1087.3 L1174.6 1087.6 L1176.1 1088.0 L1177.6 1088.4 L1179.1 1088.8 L1180.6 1089.2 L1182.1 1089.6 L1183.6 1089.9 L1185.1 1090.3 L1186.6 1090.7 L1188.1 1091.1 L1189.6 1091.4 L1191.0 1091.8 L1192.5 1092.2 L1194.0 1092.6 L1195.5 1092.9 L1197.0 1093.3 L1198.5 1093.7 L1200.0 1094.0 L1201.5 1094.4 L1203.0 1094.8 L1204.5 1095.1 L1206.0 1095.5 L1207.4 1095.9 L1208.9 1096.2 L1210.4 1096.6 L1211.9 1096.9 L1213.4 1097.3 L1214.9 1097.7 L1216.4 1098.0 L1217.9 1098.4 L1219.4 1098.7 L1220.9 1099.1 L1222.3 1099.4 L1223.8 1099.8 L1225.3 1100.2 L1226.8 1100.5 L1228.3 1100.9 L1229.8 1101.2 L1231.3 1101.6 L1232.8 1101.9 L1234.3 1102.2 L1235.8 1102.6 L1237.3 1102.9 L1238.8 1103.2 L1240.3 1103.6 L1241.8 1103.9 L1243.3 1104.2 L1244.8 1104.6 L1246.3 1104.9 L1247.8 1105.2 L1249.3 1105.5 L1250.9 1105.8 L1252.4 1106.2 L1253.9 1106.5 L1255.4 1106.8 L1256.9 1107.1 L1258.5 1107.4 L1260.0 1107.7 L1261.5 1108.0 L1263.0 1108.3 L1264.6 1108.6 L1266.1 1108.9 L1267.6 1109.2 L1269.1 1109.5 L1270.7 1109.8 L1272.2 1110.1 L1273.7 1110.4 L1275.3 1110.6 L1276.8 1110.9 L1278.3 1111.2 L1279.9 1111.5 L1281.4 1111.8 L1282.9 1112.1 L1284.4 1112.4 L1286.0 1112.7 L1287.5 1112.9 L1289.0 1113.2 L1290.6 1113.5 L1292.1 1113.8 L1293.6 1114.1 L1295.2 1114.4 L1296.7 1114.6 L1298.2 1114.9 L1299.7 1115.2 L1301.3 1115.5 L1302.8 1115.7 L1304.3 1116.0 L1305.9 1116.3 L1307.4 1116.6 L1308.9 1116.8 L1310.5 1117.1 L1312.0 1117.4 L1313.5 1117.7 L1315.0 1117.9 L1316.6 1118.2 L1318.1 1118.5 L1319.6 1118.7 L1321.2 1119.0 L1322.7 1119.3 L1324.2 1119.5 L1325.7 1119.8 L1327.3 1120.1 L1328.8 1120.3 L1330.3 1120.6 L1331.9 1120.9 L1333.4 1121.1 L1334.9 1121.4 L1336.5 1121.7 L1338.0 1121.9 L1339.5 1122.2 L1341.0 1122.4 L1342.6 1122.7 L1344.1 1123.0 L1345.6 1123.2 L1347.2 1123.5 L1348.7 1123.7 L1350.2 1124.0 L1351.7 1124.2 L1353.2 1124.5 L1354.8 1124.8 L1356.3 1125.0 L1357.8 1125.3 L1359.3 1125.5" stroke-width="6.5" stroke-linecap="round" stroke-linejoin="round" fill="none"/>
<path d="M337.0 267.8 L338.4 274.7 L339.9 281.5 L341.3 288.2 L342.7 294.8 L344.1 301.4 L345.5 307.8 L346.9 314.2 L348.3 320.5 L349.7 326.7 L351.1 332.9 L352.6 339.0 L354.0 345.0 L355.4 351.0 L356.9 356.9 L358.3 362.8 L359.8 368.6 L361.3 374.3 L362.7 380.0 L364.2 385.7 L365.7 391.3 L367.2 396.9 L368.8 402.4 L370.3 407.9 L371.8 413.3 L373.4 418.7 L374.9 424.0 L376.5 429.3 L378.1 434.5 L379.6 439.7 L381.2 444.9 L382.7 450.0 L384.3 455.0 L385.8 459.9 L387.4 464.8 L388.9 469.7 L390.4 474.5 L391.9 479.2 L393.4 483.8 L394.9 488.4 L396.4 493.0 L397.9 497.5 L399.4 501.9 L400.8 506.3 L402.3 510.6 L403.7 514.9 L405.2 519.2 L406.6 523.3 L408.0 527.5 L409.5 531.5 L410.9 535.6 L412.3 539.6 L413.7 543.5 L415.1 547.4 L416.5 551.3 L417.9 555.1 L419.4 558.9 L420.8 562.7 L422.2 566.4 L423.6 570.1 L425.1 573.8 L426.5 577.4 L428.0 581.0 L429.4 584.6 L430.8 588.1 L432.3 591.6 L433.8 595.1 L435.2 598.5 L436.7 601.9 L438.1 605.3 L439.6 608.7 L441.1 612.0 L442.6 615.3 L444.0 618.6 L445.5 621.8 L447.0 625.0 L448.5 628.2 L450.0 631.4 L451.5 634.5 L453.0 637.6 L454.5 640.7 L456.0 643.8 L457.5 646.8 L459.0 649.8 L460.5 652.8 L462.0 655.7 L463.5 658.7 L465.0 661.6 L466.5 664.4 L468.0 667.3 L469.5 670.1 L471.0 672.9 L472.5 675.7 L474.0 678.5 L475.5 681.2 L477.0 683.9 L478.5 686.6 L480.0 689.3 L481.5 691.9 L483.0 694.6 L484.6 697.2 L486.1 699.7 L487.6 702.3 L489.1 704.8 L490.6 707.3 L492.1 709.8 L493.7 712.3 L495.2 714.7 L496.7 717.1 L498.2 719.6 L499.8 721.9 L501.3 724.3 L502.8 726.6 L504.3 729.0 L505.9 731.3 L507.4 733.5 L508.9 735.8 L510.5 738.0 L512.0 740.3 L513.6 742.5 L515.1 744.7 L516.6 746.9 L518.2 749.0 L519.7 751.2 L521.2 753.3 L522.8 755.4 L524.3 757.5 L525.8 759.6 L527.4 761.7 L528.9 763.7 L530.4 765.8 L532.0 767.8 L533.5 769.8 L535.0 771.8 L536.5 773.8 L538.1 775.7 L539.6 777.7 L541.1 779.6 L542.6 781.5 L544.1 783.4 L545.6 785.3 L547.1 787.1 L548.7 789.0 L550.2 790.8 L551.7 792.6 L553.2 794.4 L554.7 796.2 L556.2 798.0 L557.7 799.7 L559.1 801.5 L560.6 803.2 L562.1 805.0 L563.6 806.7 L565.1 808.4 L566.5 810.1 L568.0 811.8 L569.4 813.6 L570.9 815.3 L572.4 816.9 L573.8 818.6 L575.3 820.3 L576.8 822.0 L578.2 823.6 L579.7 825.3 L581.2 826.9 L582.7 828.6 L584.1 830.2 L585.6 831.8 L587.1 833.4 L588.6 835.1 L590.0 836.7 L591.5 838.3 L593.0 839.9 L594.5 841.4 L596.0 843.0 L597.5 844.6 L599.0 846.1 L600.5 847.7 L602.0 849.2 L603.5 850.7 L605.0 852.2 L606.5 853.7 L608.0 855.2 L609.5 856.6 L611.0 858.1 L612.6 859.5 L614.1 861.0 L615.6 862.4 L617.1 863.9 L618.6 865.3 L620.1 866.7 L621.6 868.1 L623.2 869.5 L624.7 870.9 L626.2 872.2 L627.7 873.6 L629.2 875.0 L630.7 876.3 L632.2 877.7 L633.8 879.0 L635.3 880.4 L636.8 881.7 L638.3 883.0 L639.8 884.3 L641.3 885.6 L642.8 886.9 L644.4 888.2 L645.9 889.5 L647.4 890.7 L648.9 892.0 L650.4 893.3 L651.9 894.5 L653.4 895.8 L655.0 897.0 L656.5 898.2 L658.0 899.5 L659.5 900.7 L661.0 901.9 L662.5 903.1 L664.0 904.3 L665.5 905.5 L667.1 906.7 L668.6 907.8 L670.1 909.0 L671.6 910.1 L673.2 911.3 L674.7 912.4 L676.2 913.5 L677.8 914.6 L679.3 915.7 L680.8 916.8 L682.4 917.9 L683.9 919.0 L685.4 920.0 L687.0 921.1 L688.5 922.2 L690.0 923.2 L691.6 924.3 L693.1 925.3 L694.6 926.4 L696.1 927.4 L697.7 928.5 L699.2 929.5 L700.7 930.5 L702.2 931.5 L703.8 932.5 L705.3 933.6 L706.8 934.6 L708.3 935.6 L709.8 936.6 L711.3 937.6 L712.8 938.6 L714.3 939.7 L715.8 940.7 L717.3 941.7 L718.8 942.7 L720.3 943.7 L721.8 944.7 L723.3 945.7 L724.8 946.6 L726.2 947.6 L727.7 948.6 L729.2 949.6 L730.7 950.5 L732.2 951.5 L733.7 952.5 L735.2 953.4 L736.7 954.4 L738.2 955.3 L739.7 956.2 L741.2 957.2 L742.7 958.1 L744.2 959.0 L745.7 959.9 L747.2 960.9 L748.6 961.8 L750.1 962.7 L751.6 963.6 L753.1 964.5 L754.6 965.4 L756.1 966.3 L757.6 967.2 L759.1 968.0 L760.6 968.9 L762.1 969.8 L763.6 970.7 L765.1 971.5 L766.6 972.4 L768.1 973.3 L769.6 974.1 L771.1 975.0 L772.6 975.8 L774.1 976.7 L775.6 977.5 L777.1 978.3 L778.6 979.2 L780.1 980.0 L781.6 980.8 L783.2 981.6 L784.7 982.5 L786.2 983.3 L787.7 984.1 L789.2 984.9 L790.8 985.7 L792.3 986.5 L793.8 987.3 L795.3 988.0 L796.9 988.8 L798.4 989.6 L799.9 990.4 L801.4 991.1 L802.9 991.9 L804.5 992.7 L806.0 993.4 L807.5 994.2 L809.0 994.9 L810.5 995.6 L812.0 996.4 L813.5 997.1 L815.1 997.8 L816.6 998.5 L818.1 999.3 L819.6 1000.0 L821.1 1000.7 L822.6 1001.4 L824.1 1002.1 L825.6 1002.8 L827.1 1003.5 L828.6 1004.2 L830.1 1004.9 L831.6 1005.5 L833.0 1006.2 L834.5 1006.9 L836.0 1007.6 L837.5 1008.2 L839.0 1008.9 L840.5 1009.6 L842.0 1010.2 L843.5 1010.9 L845.0 1011.6 L846.5 1012.2 L848.0 1012.9 L849.5 1013.6 L851.0 1014.2 L852.6 1014.9 L854.1 1015.6 L855.6 1016.2 L857.1 1016.9 L858.6 1017.6 L860.1 1018.2 L861.6 1018.9 L863.1 1019.6 L864.7 1020.3 L866.2 1020.9 L867.7 1021.6 L869.2 1022.3 L870.7 1022.9 L872.2 1023.6 L873.7 1024.3 L875.3 1024.9 L876.8 1025.6 L878.3 1026.3 L879.8 1027.0 L881.3 1027.6 L882.8 1028.3 L884.3 1029.0 L885.8 1029.6 L887.3 1030.3 L888.8 1030.9 L890.3 1031.6 L891.7 1032.3 L893.2 1032.9 L894.7 1033.6 L896.2 1034.2 L897.7 1034.9 L899.2 1035.5 L900.7 1036.2 L902.2 1036.8 L903.7 1037.4 L905.1 1038.0 L906.6 1038.7 L908.1 1039.3 L909.6 1039.9 L911.1 1040.5 L912.6 1041.1 L914.1 1041.7 L915.6 1042.3 L917.1 1042.8 L918.6 1043.4 L920.1 1044.0 L921.6 1044.6 L923.1 1045.1 L924.6 1045.7 L926.2 1046.2 L927.7 1046.8 L929.2 1047.3 L930.7 1047.8 L932.2 1048.4 L933.7 1048.9 L935.2 1049.4 L936.7 1049.9 L938.2 1050.4 L939.7 1050.9 L941.2 1051.5 L942.7 1052.0 L944.2 1052.5 L945.7 1053.0 L947.2 1053.5 L948.8 1054.0 L950.3 1054.5 L951.8 1055.0 L953.3 1055.4 L954.8 1055.9 L956.3 1056.4 L957.8 1056.9 L959.3 1057.4 L960.8 1057.9 L962.3 1058.4 L963.8 1058.8 L965.3 1059.3 L966.8 1059.8 L968.3 1060.3 L969.9 1060.7 L971.4 1061.2 L972.9 1061.7 L974.4 1062.2 L975.9 1062.6 L977.4 1063.1 L978.9 1063.6 L980.4 1064.0 L981.9 1064.5 L983.4 1064.9 L984.9 1065.4 L986.4 1065.8 L987.9 1066.3 L989.4 1066.7 L990.9 1067.2 L992.5 1067.6 L994.0 1068.1 L995.5 1068.5 L997.0 1069.0 L998.5 1069.4 L1000.0 1069.9 L1001.5 1070.3 L1003.0 1070.7 L1004.5 1071.2 L1006.0 1071.6 L1007.5 1072.0 L1009.0 1072.5 L1010.5 1072.9 L1012.0 1073.3 L1013.5 1073.8 L1015.0 1074.2 L1016.6 1074.6 L1018.1 1075.1 L1019.6 1075.5 L1021.1 1076.0 L1022.6 1076.4 L1024.1 1076.8 L1025.6 1077.3 L1027.1 1077.7 L1028.6 1078.2 L1030.1 1078.6 L1031.6 1079.0 L1033.1 1079.5 L1034.6 1079.9 L1036.1 1080.4 L1037.6 1080.8 L1039.1 1081.3 L1040.6 1081.7 L1042.1 1082.2 L1043.5 1082.6 L1045.0 1083.1 L1046.5 1083.5 L1048.0 1084.0 L1049.5 1084.4 L1051.0 1084.9 L1052.4 1085.4 L1053.9 1085.8 L1055.4 1086.3 L1056.9 1086.8 L1058.3 1087.2 L1059.8 1087.7 L1061.3 1088.1 L1062.7 1088.6 L1064.2 1089.1 L1065.6 1089.5 L1067.1 1090.0 L1068.5 1090.5 L1070.0 1091.0 L1071.4 1091.4 L1072.8 1091.9 L1074.3 1092.4 L1075.7 1092.9 L1077.2 1093.3 L1078.6 1093.8 L1080.0 1094.3 L1081.5 1094.7 L1082.9 1095.2 L1084.4 1095.6 L1085.8 1096.1 L1087.3 1096.5 L1088.7 1097.0 L1090.2 1097.4 L1091.6 1097.9 L1093.1 1098.3 L1094.5 1098.7 L1096.0 1099.1 L1097.5 1099.6 L1098.9 1100.0 L1100.4 1100.4 L1101.9 1100.8 L1103.3 1101.2 L1104.8 1101.6 L1106.3 1102.0 L1107.8 1102.4 L1109.2 1102.8 L1110.7 1103.2 L1112.2 1103.6 L1113.7 1104.0 L1115.2 1104.4 L1116.6 1104.8 L1118.1 1105.2 L1119.6 1105.6 L1121.1 1106.0 L1122.6 1106.3 L1124.1 1106.7 L1125.5 1107.1 L1127.0 1107.5 L1128.5 1107.9 L1130.0 1108.3 L1131.5 1108.6 L1133.0 1109.0 L1134.5 1109.4 L1136.0 1109.8 L1137.5 1110.1 L1139.0 1110.5 L1140.5 1110.9 L1142.0 1111.3 L1143.5 1111.6 L1145.0 1112.0 L1146.5 1112.4 L1148.0 1112.7 L1149.5 1113.1 L1151.0 1113.5 L1152.5 1113.8 L1154.0 1114.2 L1155.6 1114.6 L1157.1 1114.9 L1158.6 1115.3 L1160.1 1115.6 L1161.6 1116.0 L1163.1 1116.3 L1164.6 1116.7 L1166.1 1117.1 L1167.6 1117.4 L1169.1 1117.8 L1170.7 1118.1 L1172.2 1118.5 L1173.7 1118.8 L1175.2 1119.2 L1176.7 1119.5 L1178.2 1119.9 L1179.7 1120.2 L1181.2 1120.6 L1182.7 1120.9 L1184.3 1121.2 L1185.8 1121.6 L1187.3 1121.9 L1188.8 1122.3 L1190.3 1122.6 L1191.8 1122.9 L1193.3 1123.3 L1194.8 1123.6 L1196.3 1124.0 L1197.9 1124.3 L1199.4 1124.6 L1200.9 1125.0 L1202.4 1125.3 L1203.9 1125.6 L1205.4 1126.0 L1206.9 1126.3 L1208.4 1126.6 L1209.9 1127.0 L1211.5 1127.3 L1213.0 1127.6 L1214.5 1127.9 L1216.0 1128.3 L1217.5 1128.6 L1219.0 1128.9 L1220.5 1129.2 L1222.0 1129.6 L1223.5 1129.9 L1225.0 1130.2 L1226.6 1130.5 L1228.1 1130.8 L1229.6 1131.1 L1231.1 1131.5 L1232.6 1131.8 L1234.1 1132.1 L1235.6 1132.3 L1237.2 1132.6 L1238.7 1132.9 L1240.2 1133.2 L1241.7 1133.5 L1243.2 1133.7 L1244.7 1134.0 L1246.3 1134.2 L1247.8 1134.5 L1249.3 1134.7 L1250.8 1134.9 L1252.3 1135.2 L1253.9 1135.4 L1255.4 1135.6 L1256.9 1135.8 L1258.4 1136.0 L1260.0 1136.2 L1261.5 1136.4 L1263.0 1136.6 L1264.6 1136.8 L1266.1 1137.0 L1267.6 1137.2 L1269.1 1137.4 L1270.7 1137.5 L1272.2 1137.7 L1273.7 1137.9 L1275.3 1138.1 L1276.8 1138.2 L1278.3 1138.4 L1279.9 1138.6 L1281.4 1138.8 L1282.9 1138.9 L1284.4 1139.1 L1286.0 1139.3 L1287.5 1139.4 L1289.0 1139.6 L1290.6 1139.8 L1292.1 1139.9 L1293.6 1140.1 L1295.2 1140.3 L1296.7 1140.4 L1298.2 1140.6 L1299.7 1140.8 L1301.3 1140.9 L1302.8 1141.1 L1304.3 1141.3 L1305.9 1141.4 L1307.4 1141.6 L1308.9 1141.7 L1310.5 1141.9 L1312.0 1142.1 L1313.5 1142.2 L1315.0 1142.4 L1316.6 1142.5 L1318.1 1142.7 L1319.6 1142.9 L1321.2 1143.0 L1322.7 1143.2 L1324.2 1143.3 L1325.7 1143.5 L1327.3 1143.6 L1328.8 1143.8 L1330.3 1143.9 L1331.9 1144.1 L1333.4 1144.2 L1334.9 1144.4 L1336.5 1144.5 L1338.0 1144.7 L1339.5 1144.8 L1341.0 1145.0 L1342.6 1145.1 L1344.1 1145.3 L1345.6 1145.4 L1347.2 1145.6 L1348.7 1145.8 L1350.2 1145.9 L1351.7 1146.1 L1353.2 1146.3 L1354.8 1146.4 L1356.3 1146.6 L1357.8 1146.8 L1359.3 1147.0" stroke-width="6.5" stroke-linecap="round" stroke-linejoin="round" fill="none"/>
<path d="M323.3 268.0 L324.8 275.6 L326.3 283.1 L327.8 290.6 L329.3 297.9 L330.8 305.1 L332.4 312.3 L333.9 319.3 L335.4 326.2 L336.9 333.1 L338.4 339.8 L339.9 346.5 L340.6 349.5" stroke-width="6.5" stroke-linecap="round" stroke-linejoin="round" fill="none"/>
<path d="M350.8 392.5 L351.9 396.9 L353.4 402.9 L354.9 408.8 L356.4 414.6 L357.9 420.4 L359.4 426.1 L360.8 431.8 L362.3 437.3 L363.8 442.8 L365.3 448.2 L366.7 453.6 L368.2 458.8 L369.6 464.0 L371.1 469.2 L372.5 474.3 L374.0 479.3 L375.4 484.2 L376.9 489.1 L378.4 494.0 L379.9 498.8 L381.4 503.5 L382.9 508.1 L384.4 512.8 L385.9 517.3 L387.4 521.8 L388.9 526.3 L390.4 530.7 L391.9 535.0 L393.5 539.3 L395.0 543.6 L396.6 547.8 L398.1 552.0 L399.6 556.1 L401.2 560.2 L402.7 564.2 L404.2 568.2 L405.7 572.2 L407.3 576.1 L408.8 580.0 L410.3 583.9 L411.8 587.7 L413.3 591.5 L414.8 595.2 L416.3 599.0 L417.9 602.6 L419.4 606.3 L420.9 609.9 L422.4 613.5 L423.9 617.0 L425.4 620.6 L426.9 624.1 L428.3 627.5 L429.8 631.0 L431.3 634.4 L432.8 637.7 L434.3 641.1 L435.8 644.4 L437.3 647.7 L438.8 650.9 L440.2 654.1 L441.7 657.3 L443.2 660.5 L444.7 663.6 L446.2 666.7 L447.7 669.8 L449.2 672.9 L450.7 675.9 L452.2 678.9 L453.7 681.9 L455.2 684.9 L456.7 687.9 L458.2 690.8 L459.7 693.7 L461.3 696.6 L462.8 699.5 L464.3 702.4 L465.8 705.2 L467.4 708.0 L468.9 710.8 L470.4 713.5 L472.0 716.3 L473.5 719.0 L475.0 721.7 L476.5 724.4 L478.1 727.1 L479.6 729.7 L481.1 732.3 L482.6 735.0 L484.2 737.5 L485.7 740.1 L487.2 742.7 L488.8 745.2 L490.3 747.7 L491.8 750.2 L493.3 752.6 L494.8 755.1 L496.3 757.5 L497.8 759.8 L499.2 762.2 L500.7 764.6 L502.2 766.9 L503.7 769.2 L505.2 771.5 L506.7 773.8 L508.2 776.0 L509.7 778.3 L511.2 780.5 L512.7 782.7 L514.2 784.9 L515.6 787.1 L517.1 789.2 L518.6 791.4 L520.1 793.5 L521.6 795.6 L523.1 797.7 L524.6 799.8 L526.1 801.8 L527.6 803.9 L529.1 805.9 L530.6 807.9 L532.1 809.9 L533.6 811.8 L535.1 813.8 L536.6 815.7 L538.1 817.7 L539.6 819.6 L541.1 821.4 L542.6 823.3 L544.1 825.2 L545.7 827.0 L547.2 828.8 L548.7 830.6 L550.2 832.4 L551.7 834.2 L553.3 835.9 L554.8 837.7 L556.3 839.4 L557.8 841.1 L559.4 842.8 L560.9 844.5 L562.4 846.2 L563.9 847.8 L565.5 849.5 L567.0 851.1 L568.5 852.8 L570.0 854.4 L571.6 856.0 L573.1 857.6 L574.6 859.2 L576.1 860.8 L577.7 862.3 L579.2 863.9 L580.7 865.4 L582.2 867.0 L583.7 868.5 L585.3 870.0 L586.8 871.5 L588.3 873.0 L589.8 874.5 L591.3 876.0 L592.8 877.4 L594.3 878.9 L595.9 880.4 L597.4 881.8 L598.9 883.2 L600.4 884.7 L601.9 886.1 L603.4 887.5 L604.9 888.9 L606.4 890.3 L607.9 891.6 L609.5 893.0 L611.0 894.4 L612.5 895.7 L614.0 897.1 L615.5 898.4 L617.0 899.8 L618.5 901.1 L620.0 902.4 L621.5 903.7 L623.0 905.0 L624.5 906.3 L626.1 907.6 L627.6 908.8 L629.1 910.1 L630.6 911.4 L632.1 912.6 L633.6 913.9 L635.1 915.1 L636.6 916.3 L638.1 917.6 L639.6 918.8 L641.2 920.0 L642.7 921.2 L644.2 922.4 L645.7 923.6 L647.2 924.8 L648.7 926.0 L650.3 927.1 L651.8 928.3 L653.3 929.4 L654.8 930.6 L656.3 931.7 L657.9 932.9 L659.4 934.0 L660.9 935.2 L662.4 936.3 L664.0 937.4 L665.5 938.5 L667.0 939.6 L668.5 940.7 L670.1 941.8 L671.6 942.9 L673.1 944.0 L674.7 945.0 L676.2 946.1 L677.7 947.2 L679.2 948.3 L680.7 949.3 L682.2 950.4 L683.7 951.5 L685.2 952.6 L686.7 953.6 L688.2 954.7 L689.7 955.8 L691.2 956.9 L692.7 957.9 L694.2 959.0 L695.6 960.1 L697.1 961.2 L698.6 962.2 L700.0 963.3 L701.5 964.4 L702.9 965.5 L704.4 966.5 L705.8 967.6 L707.3 968.7 L708.7 969.8 L710.1 970.8 L711.6 971.9 L713.0 973.0 L714.4 974.1 L715.9 975.1 L717.3 976.2 L718.7 977.2 L720.2 978.3 L721.6 979.3 L723.1 980.4 L724.5 981.4 L726.0 982.4 L727.4 983.5 L728.9 984.5 L730.3 985.5 L731.8 986.5 L733.2 987.5 L734.7 988.5 L736.1 989.5 L737.6 990.5 L739.1 991.4 L740.5 992.4 L742.0 993.3 L743.5 994.3 L744.9 995.2 L746.4 996.1 L747.9 997.0 L749.3 997.9 L750.8 998.7 L752.2 999.6 L753.7 1000.4 L755.2 1001.3 L756.6 1002.1 L758.1 1002.9 L759.6 1003.7 L761.0 1004.5 L762.5 1005.3 L763.9 1006.1 L765.4 1006.8 L766.9 1007.6 L768.3 1008.3 L769.8 1009.1 L771.3 1009.8 L772.8 1010.6 L774.3 1011.3 L775.8 1012.0 L777.2 1012.8 L778.7 1013.5 L780.2 1014.3 L781.7 1015.0 L783.2 1015.7 L784.7 1016.5 L786.2 1017.2 L787.8 1018.0 L789.3 1018.7 L790.8 1019.4 L792.3 1020.2 L793.8 1020.9 L795.4 1021.6 L796.9 1022.3 L798.4 1023.0 L800.0 1023.7 L801.5 1024.5 L803.0 1025.1 L804.6 1025.8 L806.1 1026.5 L807.7 1027.2 L809.2 1027.9 L810.7 1028.5 L812.3 1029.2 L813.8 1029.8 L815.4 1030.5 L816.9 1031.1 L818.4 1031.8 L820.0 1032.4 L821.5 1033.0 L823.1 1033.7 L824.6 1034.3 L826.1 1034.9 L827.7 1035.5 L829.2 1036.1 L830.8 1036.7 L832.3 1037.3 L833.8 1037.9 L835.4 1038.5 L836.9 1039.1 L838.5 1039.7 L840.0 1040.3 L841.5 1040.9 L843.1 1041.5 L844.6 1042.1 L846.1 1042.7 L847.7 1043.3 L849.2 1043.9 L850.7 1044.5 L852.3 1045.1 L853.8 1045.7 L855.3 1046.3 L856.8 1046.9 L858.4 1047.5 L859.9 1048.1 L861.4 1048.7 L862.9 1049.3 L864.4 1049.9 L866.0 1050.5 L867.5 1051.0 L869.0 1051.6 L870.5 1052.2 L872.0 1052.8 L873.5 1053.4 L875.0 1054.0 L876.5 1054.5 L878.0 1055.1 L879.5 1055.7 L881.0 1056.3 L882.5 1056.9 L884.0 1057.4 L885.5 1058.0 L887.1 1058.6 L888.6 1059.1 L890.1 1059.7 L891.6 1060.3 L893.1 1060.8 L894.6 1061.4 L896.1 1061.9 L897.6 1062.5 L899.1 1063.0 L900.6 1063.6 L902.1 1064.1 L903.6 1064.7 L905.1 1065.2 L906.6 1065.8 L908.1 1066.3 L909.6 1066.8 L911.1 1067.4 L912.6 1067.9 L914.0 1068.4 L915.5 1069.0 L917.0 1069.5 L918.5 1070.0 L920.0 1070.6 L921.5 1071.1 L923.0 1071.6 L924.5 1072.2 L926.0 1072.7 L927.5 1073.2 L929.0 1073.7 L930.5 1074.3 L931.9 1074.8 L933.4 1075.3 L934.9 1075.8 L936.4 1076.3 L937.9 1076.8 L939.4 1077.3 L940.9 1077.9 L942.3 1078.4 L943.8 1078.9 L945.3 1079.4 L946.8 1079.9 L948.3 1080.4 L949.8 1080.9 L951.3 1081.4 L952.8 1081.9 L954.2 1082.4 L955.7 1082.8 L957.2 1083.3 L958.7 1083.8 L960.2 1084.3 L961.7 1084.8 L963.2 1085.3 L964.6 1085.8 L966.1 1086.2 L967.6 1086.7 L969.1 1087.2 L970.6 1087.7 L972.1 1088.1 L973.6 1088.6 L975.1 1089.1 L976.5 1089.5 L978.0 1090.0 L979.5 1090.5 L981.0 1090.9 L982.5 1091.4 L984.0 1091.9 L985.5 1092.3 L986.9 1092.8 L988.4 1093.2 L989.9 1093.7 L991.4 1094.1 L992.9 1094.6 L994.4 1095.0 L995.9 1095.5 L997.4 1095.9 L998.8 1096.4 L1000.3 1096.8 L1001.8 1097.2 L1003.3 1097.7 L1004.8 1098.1 L1006.3 1098.6 L1007.8 1099.0 L1009.2 1099.4 L1010.7 1099.9 L1012.2 1100.3 L1013.7 1100.8 L1015.2 1101.2 L1016.7 1101.6 L1018.2 1102.1 L1019.7 1102.5 L1021.2 1103.0 L1022.6 1103.5 L1024.1 1103.9 L1025.6 1104.4 L1027.1 1104.8 L1028.6 1105.3 L1030.1 1105.8 L1031.6 1106.2 L1033.1 1106.7 L1034.6 1107.2 L1036.1 1107.7 L1037.6 1108.1 L1039.1 1108.6 L1040.6 1109.1 L1042.1 1109.6 L1043.5 1110.1 L1045.0 1110.6 L1046.5 1111.0 L1048.0 1111.5 L1049.5 1112.0 L1051.0 1112.4 L1052.5 1112.9 L1054.0 1113.3 L1055.5 1113.7 L1057.0 1114.1 L1058.5 1114.6 L1060.0 1115.0 L1061.5 1115.4 L1063.0 1115.8 L1064.5 1116.2 L1066.0 1116.6 L1067.5 1116.9 L1069.0 1117.3 L1070.5 1117.7 L1072.0 1118.0 L1073.5 1118.4 L1075.0 1118.7 L1076.5 1119.1 L1078.0 1119.4 L1079.5 1119.8 L1081.0 1120.1 L1082.5 1120.5 L1084.0 1120.8 L1085.6 1121.1 L1087.1 1121.5 L1088.6 1121.8 L1090.1 1122.2 L1091.6 1122.5 L1093.1 1122.9 L1094.6 1123.2 L1096.2 1123.6 L1097.7 1123.9 L1099.2 1124.3 L1100.7 1124.6 L1102.3 1125.0 L1103.8 1125.3 L1105.3 1125.7 L1106.8 1126.1 L1108.4 1126.4 L1109.9 1126.8 L1111.4 1127.1 L1113.0 1127.5 L1114.5 1127.8 L1116.0 1128.2 L1117.6 1128.6 L1119.1 1128.9 L1120.6 1129.3 L1122.1 1129.6 L1123.7 1130.0 L1125.2 1130.3 L1126.7 1130.7 L1128.2 1131.0 L1129.7 1131.4 L1131.2 1131.7 L1132.8 1132.0 L1134.3 1132.4 L1135.8 1132.7 L1137.3 1133.1 L1138.8 1133.4 L1140.3 1133.7 L1141.8 1134.1 L1143.3 1134.4 L1144.8 1134.7 L1146.3 1135.1 L1147.8 1135.4 L1149.3 1135.7 L1150.8 1136.1 L1152.3 1136.4 L1153.8 1136.7 L1155.3 1137.0 L1156.8 1137.4 L1158.3 1137.7 L1159.7 1138.0 L1161.2 1138.3 L1162.7 1138.7 L1164.2 1139.0 L1165.7 1139.3 L1167.2 1139.6 L1168.7 1139.9 L1170.2 1140.3 L1171.7 1140.6 L1173.2 1140.9 L1174.6 1141.2 L1176.1 1141.5 L1177.6 1141.8 L1179.1 1142.1 L1180.6 1142.4 L1182.1 1142.8 L1183.6 1143.1 L1185.1 1143.4 L1186.6 1143.7 L1188.1 1144.0 L1189.6 1144.3 L1191.0 1144.6 L1192.5 1144.9 L1194.0 1145.2 L1195.5 1145.5 L1197.0 1145.8 L1198.5 1146.1 L1200.0 1146.4 L1201.5 1146.7 L1203.0 1147.0 L1204.5 1147.3 L1206.0 1147.6 L1207.4 1147.9 L1208.9 1148.2 L1210.4 1148.5 L1211.9 1148.8 L1213.4 1149.1 L1214.9 1149.4 L1216.4 1149.6 L1217.9 1149.9 L1219.4 1150.2 L1220.9 1150.5 L1222.3 1150.8 L1223.8 1151.1 L1225.3 1151.4 L1226.8 1151.7 L1228.3 1151.9 L1229.8 1152.2 L1231.3 1152.5 L1232.8 1152.8 L1234.3 1153.1 L1235.8 1153.3 L1237.3 1153.6 L1238.8 1153.9 L1240.3 1154.1 L1241.8 1154.4 L1243.3 1154.6 L1244.8 1154.9 L1246.3 1155.1 L1247.8 1155.4 L1249.3 1155.6 L1250.9 1155.9 L1252.4 1156.1 L1253.9 1156.4 L1255.4 1156.6 L1256.9 1156.8 L1258.5 1157.1 L1260.0 1157.3 L1261.5 1157.5 L1263.0 1157.7 L1264.6 1158.0 L1266.1 1158.2 L1267.6 1158.4 L1269.1 1158.6 L1270.7 1158.8 L1272.2 1159.0 L1273.7 1159.2 L1275.3 1159.5 L1276.8 1159.7 L1278.3 1159.9 L1279.9 1160.1 L1281.4 1160.3 L1282.9 1160.5 L1284.4 1160.7 L1286.0 1160.9 L1287.5 1161.1 L1289.0 1161.3 L1290.6 1161.5 L1292.1 1161.8 L1293.6 1162.0 L1295.2 1162.2 L1296.7 1162.4 L1298.2 1162.6 L1299.7 1162.8 L1301.3 1163.0 L1302.8 1163.2 L1304.3 1163.4 L1305.9 1163.6 L1307.4 1163.8 L1308.9 1164.0 L1310.4 1164.2 L1312.0 1164.4 L1313.5 1164.6 L1315.0 1164.8 L1316.6 1165.0 L1318.1 1165.2 L1319.6 1165.3 L1321.2 1165.5 L1322.7 1165.7 L1324.2 1165.9 L1325.7 1166.1 L1327.3 1166.3 L1328.8 1166.5 L1330.3 1166.7 L1331.9 1166.9 L1333.4 1167.1 L1334.9 1167.3 L1336.5 1167.4 L1338.0 1167.6 L1339.5 1167.8 L1341.0 1168.0 L1342.6 1168.2 L1344.1 1168.4 L1345.6 1168.6 L1347.2 1168.8 L1348.7 1169.0 L1350.2 1169.1 L1351.7 1169.3 L1353.2 1169.5 L1354.8 1169.7 L1356.3 1169.9 L1357.8 1170.1 L1359.3 1170.3" stroke-width="6.5" stroke-linecap="round" stroke-linejoin="round" fill="none"/>
<line x1="973.6" y1="632.8" x2="953.0" y2="666.3" stroke-width="3.4" stroke-linecap="round"/>
<line x1="1080.7" y1="677.0" x2="998.0" y2="809.5" stroke-width="3.4" stroke-linecap="round"/>
<line x1="1132.0" y1="700.3" x2="1008.9" y2="895.4" stroke-width="3.4" stroke-linecap="round"/>
<line x1="1208.8" y1="723.6" x2="1045.5" y2="970.3" stroke-width="3.4" stroke-linecap="round"/>
<line x1="1257.8" y1="751.5" x2="1081.1" y2="1030.0" stroke-width="3.4" stroke-linecap="round"/>
<line x1="1311.3" y1="770.2" x2="1109.0" y2="1071.9" stroke-width="3.4" stroke-linecap="round"/>
<line x1="1364.9" y1="791.0" x2="1146.3" y2="1112.3" stroke-width="3.4" stroke-linecap="round"/>
<line x1="1426.5" y1="817.0" x2="1228.0" y2="1151.9" stroke-width="3.4" stroke-linecap="round"/>
<path d="M362 470.2 L703 468.9" stroke="#fff" stroke-width="1.5" fill="none"/>
</g>
<text x="287.5" y="386.5" font-family='"Liberation Sans", sans-serif' font-size="36.3" font-style="italic" font-weight="bold" textLength="68.0" lengthAdjust="spacingAndGlyphs" transform="rotate(-3.0 321.5 373.5)">1800</text>
<text x="287.9" y="502.0" font-family='"Liberation Sans", sans-serif' font-size="40.5" font-style="italic" font-weight="bold" textLength="68.0" lengthAdjust="spacingAndGlyphs" transform="rotate(-2.0 321.9 487.5)">1600</text>
<text x="288.0" y="615.4" font-family='"Liberation Sans", sans-serif' font-size="41.8" font-style="italic" font-weight="bold" textLength="68.8" lengthAdjust="spacingAndGlyphs" transform="rotate(-2.0 322.4 600.5)">1400</text>
<text x="286.0" y="726.0" font-family='"Liberation Sans", sans-serif' font-size="40.5" font-style="italic" font-weight="bold" textLength="68.0" lengthAdjust="spacingAndGlyphs" transform="rotate(-2.0 320.0 711.5)">1200</text>
<text x="285.3" y="839.3" font-family='"Liberation Sans", sans-serif' font-size="41.8" font-style="italic" font-weight="bold" textLength="71.5" lengthAdjust="spacingAndGlyphs" transform="rotate(-2.0 321.1 824.3)">1000</text>
<text x="291.4" y="944.7" font-family='"Liberation Sans", sans-serif' font-size="41.5" font-style="italic" font-weight="bold" textLength="57.6" lengthAdjust="spacingAndGlyphs" transform="rotate(-2.0 320.2 929.9)">800</text>
<text x="294.9" y="1054.5" font-family='"Liberation Sans", sans-serif' font-size="41.2" font-style="italic" font-weight="bold" textLength="55.8" lengthAdjust="spacingAndGlyphs" transform="rotate(-2.0 322.8 1039.8)">600</text>
<text x="292.8" y="1162.0" font-family='"Liberation Sans", sans-serif' font-size="40.5" font-style="italic" font-weight="bold" textLength="57.9" lengthAdjust="spacingAndGlyphs" transform="rotate(-2.0 321.8 1147.5)">400</text>
<text x="240.7" y="1242.3" font-family='"Liberation Sans", sans-serif' font-size="38.1" font-style="italic" font-weight="bold" textLength="20.9" lengthAdjust="spacingAndGlyphs">2</text>
<text x="349.0" y="1242.3" font-family='"Liberation Sans", sans-serif' font-size="38.1" font-style="italic" font-weight="bold" textLength="21.0" lengthAdjust="spacingAndGlyphs">0</text>
<text x="464.4" y="1242.3" font-family='"Liberation Sans", sans-serif' font-size="38.1" font-style="italic" font-weight="bold" textLength="17.8" lengthAdjust="spacingAndGlyphs">2</text>
<text x="571.7" y="1242.3" font-family='"Liberation Sans", sans-serif' font-size="38.1" font-style="italic" font-weight="bold" textLength="21.3" lengthAdjust="spacingAndGlyphs">4</text>
<text x="679.8" y="1242.3" font-family='"Liberation Sans", sans-serif' font-size="38.1" font-style="italic" font-weight="bold" textLength="19.6" lengthAdjust="spacingAndGlyphs">6</text>
<text x="793.0" y="1242.3" font-family='"Liberation Sans", sans-serif' font-size="38.1" font-style="italic" font-weight="bold" textLength="17.6" lengthAdjust="spacingAndGlyphs">8</text>
<text x="898.0" y="1242.3" font-family='"Liberation Sans", sans-serif' font-size="38.1" font-style="italic" font-weight="bold" textLength="31.0" lengthAdjust="spacingAndGlyphs">10</text>
<text x="1009.9" y="1242.3" font-family='"Liberation Sans", sans-serif' font-size="38.1" font-style="italic" font-weight="bold" textLength="31.1" lengthAdjust="spacingAndGlyphs">12</text>
<text x="1117.0" y="1242.3" font-family='"Liberation Sans", sans-serif' font-size="38.1" font-style="italic" font-weight="bold" textLength="31.0" lengthAdjust="spacingAndGlyphs">14</text>
<text x="1229.0" y="1242.3" font-family='"Liberation Sans", sans-serif' font-size="38.1" font-style="italic" font-weight="bold" textLength="31.0" lengthAdjust="spacingAndGlyphs">16</text>
<text x="218.5" y="1243.5" font-family='"Liberation Sans", sans-serif' font-size="48" font-weight="bold" textLength="16.5" lengthAdjust="spacingAndGlyphs">-</text>
<text x="1301.5" y="1248" font-family='"Liberation Sans", sans-serif' font-size="46" font-style="italic" font-weight="bold" style="stroke-width:0.3px" textLength="30" lengthAdjust="spacingAndGlyphs">β</text>
<text x="1332" y="1240.5" font-family='"Liberation Sans", sans-serif' font-size="36" font-style="italic" font-weight="bold" style="stroke-width:0.3px">,</text>
<text x="1347" y="1240.5" font-family='"Liberation Sans", sans-serif' font-size="33" font-style="italic" font-weight="bold" style="stroke-width:0.5px" textLength="81" lengthAdjust="spacingAndGlyphs">град</text>
<text x="346.3" y="254.8" font-family='"Liberation Sans", sans-serif' font-size="40.5" font-style="italic" font-weight="bold" textLength="62.2" lengthAdjust="spacingAndGlyphs">L, м</text>
<text x="1055.0" y="669.0" font-family='"Liberation Sans", sans-serif' font-size="34.9" font-style="italic" font-weight="bold" textLength="58.0" lengthAdjust="spacingAndGlyphs" transform="rotate(-4.0 1084.0 656.5)" style="stroke-width:0.3px">340</text>
<text x="1120.0" y="692.0" font-family='"Liberation Sans", sans-serif' font-size="37.7" font-style="italic" font-weight="bold" textLength="58.6" lengthAdjust="spacingAndGlyphs" transform="rotate(-4.0 1149.3 678.5)" style="stroke-width:0.3px">425</text>
<text x="1181.0" y="718.0" font-family='"Liberation Sans", sans-serif' font-size="37.7" font-style="italic" font-weight="bold" textLength="53.5" lengthAdjust="spacingAndGlyphs" transform="rotate(-4.0 1207.8 704.5)" style="stroke-width:0.3px">510</text>
<text x="1236.8" y="741.0" font-family='"Liberation Sans", sans-serif' font-size="37.7" font-style="italic" font-weight="bold" textLength="53.2" lengthAdjust="spacingAndGlyphs" transform="rotate(-4.0 1263.4 727.5)" style="stroke-width:0.3px">595</text>
<text x="1290.0" y="762.0" font-family='"Liberation Sans", sans-serif' font-size="37.7" font-style="italic" font-weight="bold" textLength="56.0" lengthAdjust="spacingAndGlyphs" transform="rotate(-4.0 1318.0 748.5)" style="stroke-width:0.3px">680</text>
<text x="1348.6" y="783.0" font-family='"Liberation Sans", sans-serif' font-size="37.7" font-style="italic" font-weight="bold" textLength="51.4" lengthAdjust="spacingAndGlyphs" transform="rotate(-4.0 1374.3 769.5)" style="stroke-width:0.3px">765</text>
<text x="1400.0" y="809.0" font-family='"Liberation Sans", sans-serif' font-size="37.7" font-style="italic" font-weight="bold" textLength="58.0" lengthAdjust="spacingAndGlyphs" transform="rotate(-4.0 1429.0 795.5)" style="stroke-width:0.3px">850</text>
<text x="904.0" y="626.0" font-family='"Liberation Sans", sans-serif' font-size="39.1" font-style="italic" font-weight="bold" textLength="102.0" lengthAdjust="spacingAndGlyphs" transform="rotate(2.0 955.0 612.0)" style="stroke-width:0.3px">Q=255</text>
<text x="1010.5" y="622.5" font-family='"Liberation Sans", sans-serif' font-size="29" font-weight="bold" style="stroke-width:0.3px" textLength="13" lengthAdjust="spacingAndGlyphs" transform="translate(1010.5 622.5) skewX(-14) translate(-1010.5 -622.5)">т</text>
<text x="1022" y="630" font-family='"Liberation Sans", sans-serif' font-size="50" style="stroke-width:0.8px" transform="translate(1022 630) skewX(-8) translate(-1022 -630)">/</text>
<text x="1043.5" y="623.5" font-family='"Liberation Sans", sans-serif' font-size="31" font-weight="bold" style="stroke-width:0.3px" textLength="13" lengthAdjust="spacingAndGlyphs" transform="translate(1043.5 623.5) skewX(-14) translate(-1043.5 -623.5)">ч</text>
<g transform="rotate(0.466 203 1344.5)">
<text x="203.6" y="1344.2" font-family='"Liberation Serif", serif' font-size="44.0" font-weight="bold" textLength="74.8" lengthAdjust="spacingAndGlyphs">Рис.</text>
<text x="322.2" y="1344.2" font-family='"Liberation Serif", serif' font-size="44.0" font-weight="bold" textLength="105.6" lengthAdjust="spacingAndGlyphs">П.2.26.</text>
<text x="471.3" y="1344.2" font-family='"Liberation Serif", serif' font-size="44.0" font-weight="bold" textLength="216.1" lengthAdjust="spacingAndGlyphs">Зависимость</text>
<text x="732.0" y="1344.2" font-family='"Liberation Serif", serif' font-size="44.0" font-weight="bold" textLength="109.4" lengthAdjust="spacingAndGlyphs">длины</text>
<text x="885.6" y="1344.2" font-family='"Liberation Serif", serif' font-size="44.0" font-weight="bold" textLength="169.0" lengthAdjust="spacingAndGlyphs">конвейера</text>
<text x="1101.6" y="1344.2" font-family='"Liberation Serif", serif' font-size="44.0" font-weight="bold" textLength="130.3" lengthAdjust="spacingAndGlyphs">3Л100У</text>
<text x="1278.0" y="1344.2" font-family='"Liberation Serif", serif' font-size="44.0" font-weight="bold" textLength="17.9" lengthAdjust="spacingAndGlyphs">с</text>
<text x="1341.5" y="1344.2" font-family='"Liberation Serif", serif' font-size="44.0" font-weight="bold" textLength="118.8" lengthAdjust="spacingAndGlyphs">лентой</text>
<text x="205.4" y="1394.8" font-family='"Liberation Serif", serif' font-size="44.0" font-weight="bold" textLength="308.2" lengthAdjust="spacingAndGlyphs">2РТЛТВ(ПГ)-2500</text>
<text x="538.4" y="1394.8" font-family='"Liberation Serif", serif' font-size="44.0" font-weight="bold" textLength="39.6" lengthAdjust="spacingAndGlyphs">от</text>
<text x="589.2" y="1394.8" font-family='"Liberation Serif", serif' font-size="44.0" font-weight="bold" textLength="305.2" lengthAdjust="spacingAndGlyphs">эксплуатационной</text>
<text x="910.4" y="1394.8" font-family='"Liberation Serif", serif' font-size="44.0" font-weight="bold" textLength="151.6" lengthAdjust="spacingAndGlyphs">нагрузки</text>
<text x="1071.9" y="1394.8" font-family='"Liberation Serif", serif' font-size="44.0" font-weight="bold" textLength="27.4" lengthAdjust="spacingAndGlyphs">Q</text>
<text x="1125.3" y="1394.8" font-family='"Liberation Serif", serif' font-size="44.0" font-weight="bold" textLength="23.7" lengthAdjust="spacingAndGlyphs">и</text>
<text x="1161.3" y="1394.8" font-family='"Liberation Serif", serif' font-size="44.0" font-weight="bold" textLength="72.1" lengthAdjust="spacingAndGlyphs">угла</text>
<text x="1249.3" y="1394.8" font-family='"Liberation Serif", serif' font-size="44.0" font-weight="bold" textLength="174.4" lengthAdjust="spacingAndGlyphs">установки</text>
<text x="1440.6" y="1394.8" font-family='"Liberation Serif", serif' font-size="44.0" font-weight="bold" textLength="17.9" lengthAdjust="spacingAndGlyphs">β</text>
<text x="203.0" y="1443.2" font-family='"Liberation Serif", serif' font-size="44.0" font-weight="bold" textLength="63.7" lengthAdjust="spacingAndGlyphs">при</text>
<text x="279.6" y="1443.2" font-family='"Liberation Serif", serif' font-size="44.0" font-weight="bold" textLength="166.8" lengthAdjust="spacingAndGlyphs">мощности</text>
<text x="460.1" y="1443.2" font-family='"Liberation Serif", serif' font-size="44.0" font-weight="bold" textLength="136.6" lengthAdjust="spacingAndGlyphs">привода</text>
<text x="610.3" y="1443.2" font-family='"Liberation Serif", serif' font-size="44.0" font-weight="bold" textLength="31.1" lengthAdjust="spacingAndGlyphs">N</text>
<text x="696.0" y="1443.2" font-family='"Liberation Serif", serif' font-size="44.0" font-weight="bold" textLength="70.9" lengthAdjust="spacingAndGlyphs">=500</text>
<text x="789.2" y="1443.2" font-family='"Liberation Serif", serif' font-size="44.0" font-weight="bold" textLength="49.7" lengthAdjust="spacingAndGlyphs">кВт</text>
<text x="852.5" y="1443.2" font-family='"Liberation Serif", serif' font-size="44.0" font-weight="bold" textLength="22.4" lengthAdjust="spacingAndGlyphs">и</text>
<text x="894.8" y="1443.2" font-family='"Liberation Serif", serif' font-size="44.0" font-weight="bold" textLength="145.2" lengthAdjust="spacingAndGlyphs">скорости</text>
<text x="1053.6" y="1443.2" font-family='"Liberation Serif", serif' font-size="44.0" font-weight="bold" textLength="103.2" lengthAdjust="spacingAndGlyphs">ленты</text>
<text x="1208.9" y="1443.2" font-family='"Liberation Serif", serif' font-size="44.0" font-weight="bold" textLength="44.8" lengthAdjust="spacingAndGlyphs">2,5</text>
<text x="1263.6" y="1443.2" font-family='"Liberation Serif", serif' font-size="44.0" font-weight="bold" textLength="64.6" lengthAdjust="spacingAndGlyphs">м/с</text>
<text x="643.8" y="1452.7" font-family='"Liberation Serif", serif' font-size="34.0" font-weight="bold" textLength="40.6" lengthAdjust="spacingAndGlyphs">сум</text>
</g>
<text x="1418.8" y="2127.0" font-family='"Liberation Serif", serif' font-size="45.9" font-style="italic" font-weight="bold" textLength="41.7" lengthAdjust="spacingAndGlyphs">75</text>
</svg>
</body></html>
